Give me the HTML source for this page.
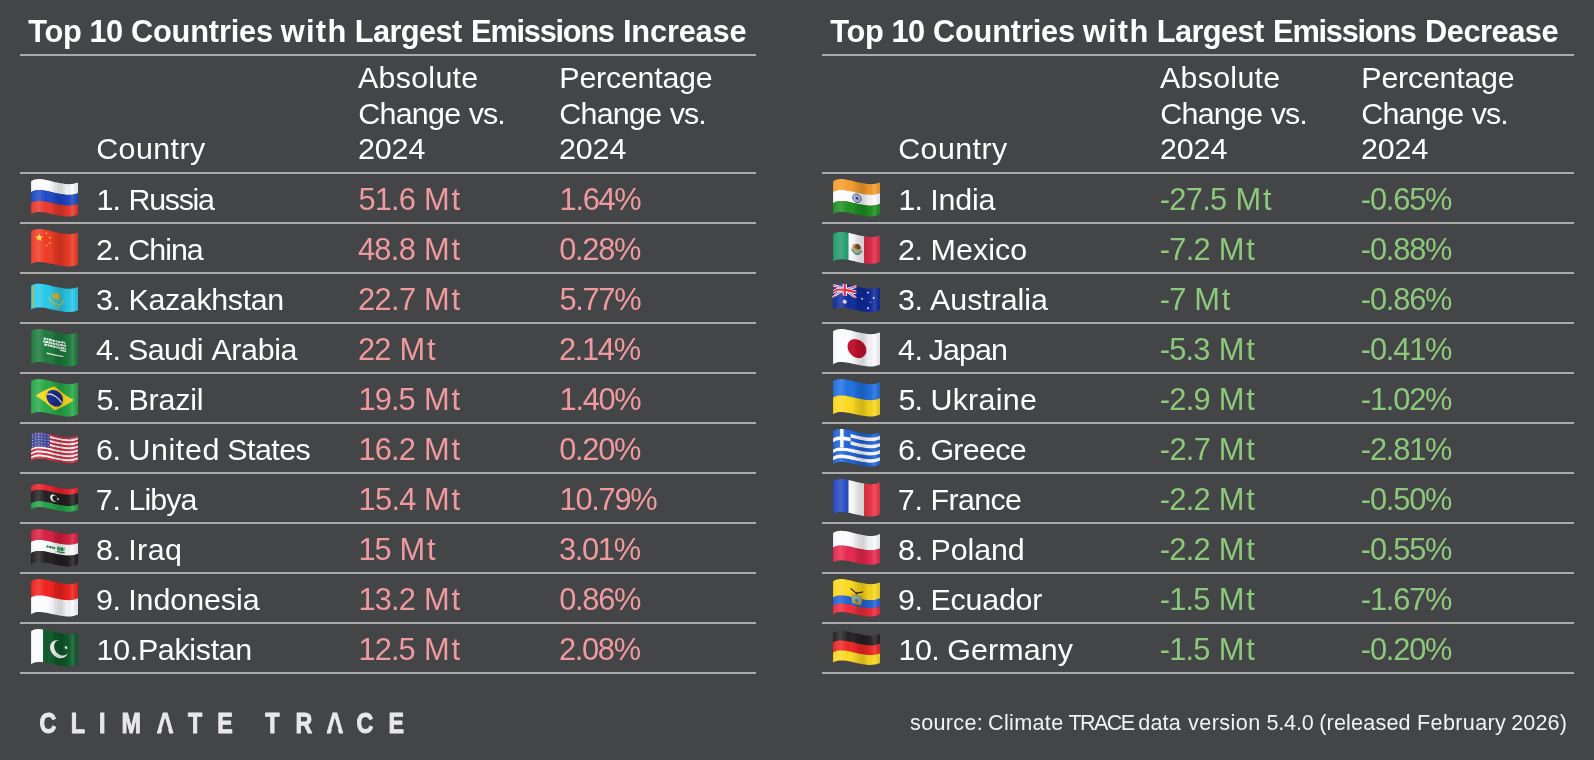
<!DOCTYPE html>
<html lang="en">
<head>
<meta charset="utf-8">
<title>Climate TRACE – Top 10 Countries Emissions Change</title>
<style>
html,body{margin:0;padding:0;background:#444547;}
body{width:1594px;height:760px;overflow:hidden;font-family:"Liberation Sans",sans-serif;color:#fff;}
.page{will-change:transform;position:relative;width:1594px;height:760px;overflow:hidden;background:#444547;}
.panel{position:absolute;top:0;}
.panel.inc{left:20px;width:736px;}
.panel.dec{left:822px;width:752px;}
h2{position:absolute;left:8px;top:14px;margin:0;font-size:30.8px;line-height:36px;font-weight:bold;white-space:nowrap;color:#fff;}
table{position:absolute;left:0;top:54px;width:100%;border-collapse:separate;border-spacing:0;table-layout:fixed;font-size:30.4px;}
th,td{padding:0;margin:0;border-top:2px solid #aaaaaa;text-align:left;font-weight:normal;white-space:nowrap;overflow:visible;}
th{height:111px;padding-bottom:5px;vertical-align:bottom;line-height:35.6px;}
td{height:48px;line-height:48px;vertical-align:top;}
tbody tr:last-child td{border-bottom:2px solid #aaaaaa;}
.c0{width:76px;}
.c1{width:262px;}
.c2{width:201px;}
.c3{width:auto;}
th span,td span,h2 span,.source span{position:relative;}
td span{top:1px;}
td.v{font-size:30.8px;}
td.v span{top:2px;}
.inc .v{color:#ef9a9e;}
.dec .v{color:#8dc97b;}
td.c0{position:relative;}
td.c0 svg{position:absolute;left:9px;top:0;display:block;overflow:visible;}
footer{position:absolute;left:0;top:690px;width:1594px;height:70px;}
.logo{position:absolute;left:30px;top:10px;display:block;overflow:visible;}
.source{position:absolute;right:27px;top:18px;margin:0;font-size:21.6px;line-height:30px;color:#f2f2f2;white-space:nowrap;}

</style>
</head>
<body>
<svg width="0" height="0" style="position:absolute" aria-hidden="true"><defs><linearGradient id="fsh" x1="0" y1="0" x2="1" y2="0"><stop offset="0" stop-color="#000" stop-opacity="0.12"/><stop offset="0.04" stop-color="#fff" stop-opacity="0.05"/><stop offset="0.16" stop-color="#fff" stop-opacity="0.16"/><stop offset="0.32" stop-color="#fff" stop-opacity="0"/><stop offset="0.52" stop-color="#000" stop-opacity="0.12"/><stop offset="0.64" stop-color="#000" stop-opacity="0.17"/><stop offset="0.76" stop-color="#000" stop-opacity="0.04"/><stop offset="0.88" stop-color="#fff" stop-opacity="0.14"/><stop offset="1" stop-color="#000" stop-opacity="0.10"/></linearGradient></defs></svg>
<main class="page">
<section class="panel inc">
<h2><span style="letter-spacing:-0.323px;margin-left:0.23px">Top</span> <span style="letter-spacing:-0.463px;margin-left:-0.6px">10</span> <span style="letter-spacing:-0.192px;margin-left:-0.39px">Countries</span> <span style="letter-spacing:1.283px;margin-left:-0.7px">with</span> <span style="letter-spacing:-0.606px;margin-left:-1.41px">Largest</span> <span style="letter-spacing:-1.27px;margin-left:0.86px">Emissions</span> <span style="letter-spacing:-0.212px;margin-left:0.73px">Increase</span></h2>
<table>
<thead><tr><th class="c0"></th><th class="c1"><span style="letter-spacing:0.424px;margin-left:0.22px">Country</span></th><th class="c2"><span style="letter-spacing:0.284px;margin-left:-0.07px">Absolute</span><br><span style="letter-spacing:-0.712px;margin-left:0.22px">Change</span> <span style="letter-spacing:-0.923px;margin-left:-0.19px">vs.</span><br><span style="letter-spacing:-0.061px;margin-left:-0.07px">2024</span></th><th class="c3"><span style="letter-spacing:-0.237px;margin-left:0.37px">Percentage</span><br><span style="letter-spacing:-0.712px;margin-left:0.22px">Change</span> <span style="letter-spacing:-0.923px;margin-left:-0.19px">vs.</span><br><span style="letter-spacing:-0.061px;margin-left:-0.07px">2024</span></th></tr></thead>
<tbody>
<tr><td class="c0"><svg width="50" height="48" viewBox="0 0 50 48" role="img" aria-label="Flag of Russia"><path d="M2.0,7.2 L3.9,6.2 L5.8,5.5 L7.6,5.2 L9.5,5.1 L11.4,5.1 L13.3,5.3 L15.2,5.6 L17.0,5.9 L18.9,6.3 L20.8,6.7 L22.7,7.2 L24.6,7.7 L26.4,8.2 L28.3,8.6 L30.2,9.0 L32.1,9.3 L34.0,9.6 L35.8,9.9 L37.7,10.1 L39.6,10.2 L41.5,10.1 L43.4,9.9 L45.2,9.6 L47.1,9.1 L49.0,8.4 L49.0,12.0 L49.0,15.6 L49.0,19.2 L47.1,19.9 L45.2,20.5 L43.4,20.8 L41.5,21.0 L39.6,21.1 L37.7,21.0 L35.8,20.8 L34.0,20.6 L32.1,20.3 L30.2,19.9 L28.3,19.6 L26.4,19.2 L24.6,18.7 L22.7,18.2 L20.8,17.8 L18.9,17.3 L17.0,17.0 L15.2,16.6 L13.3,16.4 L11.4,16.2 L9.5,16.2 L7.6,16.3 L5.8,16.6 L3.9,17.3 L2.0,18.4 L2.0,14.6 L2.0,10.9Z" fill="#fbfbfd"/><path d="M2.0,18.1 L3.9,17.0 L5.8,16.4 L7.6,16.0 L9.5,15.9 L11.4,16.0 L13.3,16.1 L15.2,16.4 L17.0,16.7 L18.9,17.1 L20.8,17.5 L22.7,18.0 L24.6,18.5 L26.4,18.9 L28.3,19.3 L30.2,19.7 L32.1,20.0 L34.0,20.3 L35.8,20.6 L37.7,20.8 L39.6,20.8 L41.5,20.8 L43.4,20.6 L45.2,20.2 L47.1,19.7 L49.0,19.0 L49.0,22.6 L49.0,26.3 L49.0,29.9 L47.1,30.6 L45.2,31.2 L43.4,31.6 L41.5,31.8 L39.6,31.9 L37.7,31.8 L35.8,31.6 L34.0,31.4 L32.1,31.1 L30.2,30.8 L28.3,30.4 L26.4,30.0 L24.6,29.6 L22.7,29.1 L20.8,28.7 L18.9,28.3 L17.0,27.9 L15.2,27.6 L13.3,27.3 L11.4,27.2 L9.5,27.1 L7.6,27.3 L5.8,27.6 L3.9,28.3 L2.0,29.4 L2.0,25.6 L2.0,21.9Z" fill="#1d48c8"/><path d="M2.0,29.1 L3.9,28.1 L5.8,27.4 L7.6,27.0 L9.5,26.9 L11.4,26.9 L13.3,27.1 L15.2,27.3 L17.0,27.6 L18.9,28.0 L20.8,28.4 L22.7,28.9 L24.6,29.3 L26.4,29.8 L28.3,30.2 L30.2,30.5 L32.1,30.8 L34.0,31.1 L35.8,31.4 L37.7,31.5 L39.6,31.6 L41.5,31.5 L43.4,31.3 L45.2,30.9 L47.1,30.4 L49.0,29.7 L49.0,33.3 L49.0,36.9 L49.0,40.5 L47.1,41.2 L45.2,41.8 L43.4,42.2 L41.5,42.4 L39.6,42.5 L37.7,42.4 L35.8,42.3 L34.0,42.1 L32.1,41.8 L30.2,41.5 L28.3,41.1 L26.4,40.8 L24.6,40.3 L22.7,39.9 L20.8,39.4 L18.9,39.0 L17.0,38.7 L15.2,38.4 L13.3,38.2 L11.4,38.0 L9.5,38.0 L7.6,38.1 L5.8,38.5 L3.9,39.2 L2.0,40.3 L2.0,36.6 L2.0,32.9Z" fill="#e8372b"/><path d="M2.0,7.2 L3.9,6.2 L5.8,5.5 L7.6,5.2 L9.5,5.1 L11.4,5.1 L13.3,5.3 L15.2,5.6 L17.0,5.9 L18.9,6.3 L20.8,6.7 L22.7,7.2 L24.6,7.7 L26.4,8.2 L28.3,8.6 L30.2,9.0 L32.1,9.3 L34.0,9.6 L35.8,9.9 L37.7,10.1 L39.6,10.2 L41.5,10.1 L43.4,9.9 L45.2,9.6 L47.1,9.1 L49.0,8.4 L49.0,12.4 L49.0,16.4 L49.0,20.4 L49.0,24.5 L49.0,28.5 L49.0,32.5 L49.0,36.5 L49.0,40.5 L47.1,41.2 L45.2,41.8 L43.4,42.2 L41.5,42.4 L39.6,42.5 L37.7,42.4 L35.8,42.3 L34.0,42.1 L32.1,41.8 L30.2,41.5 L28.3,41.1 L26.4,40.8 L24.6,40.3 L22.7,39.9 L20.8,39.4 L18.9,39.0 L17.0,38.7 L15.2,38.4 L13.3,38.2 L11.4,38.0 L9.5,38.0 L7.6,38.1 L5.8,38.5 L3.9,39.2 L2.0,40.3 L2.0,36.2 L2.0,32.0 L2.0,27.9 L2.0,23.8 L2.0,19.6 L2.0,15.5 L2.0,11.3Z" fill="url(#fsh)"/></svg></td><td class="c1"><span style="letter-spacing:-0.874px;margin-left:0.59px">1.</span> <span style="letter-spacing:-1.277px;margin-left:-0.17px">Russia</span></td><td class="c2 v"><span style="letter-spacing:-0.817px;margin-left:0.39px">51.6</span> <span style="letter-spacing:1.933px;margin-left:0.35px">Mt</span></td><td class="c3 v"><span style="letter-spacing:-1.294px;margin-left:0.56px">1.64%</span></td></tr>
<tr><td class="c0"><svg width="50" height="48" viewBox="0 0 50 48" role="img" aria-label="Flag of China"><path d="M2.0,7.2 L3.9,6.2 L5.8,5.5 L7.6,5.2 L9.5,5.1 L11.4,5.1 L13.3,5.3 L15.2,5.6 L17.0,5.9 L18.9,6.3 L20.8,6.7 L22.7,7.2 L24.6,7.7 L26.4,8.2 L28.3,8.6 L30.2,9.0 L32.1,9.3 L34.0,9.6 L35.8,9.9 L37.7,10.1 L39.6,10.2 L41.5,10.1 L43.4,9.9 L45.2,9.6 L47.1,9.1 L49.0,8.4 L49.0,12.4 L49.0,16.4 L49.0,20.4 L49.0,24.5 L49.0,28.5 L49.0,32.5 L49.0,36.5 L49.0,40.5 L47.1,41.2 L45.2,41.8 L43.4,42.2 L41.5,42.4 L39.6,42.5 L37.7,42.4 L35.8,42.3 L34.0,42.1 L32.1,41.8 L30.2,41.5 L28.3,41.1 L26.4,40.8 L24.6,40.3 L22.7,39.9 L20.8,39.4 L18.9,39.0 L17.0,38.7 L15.2,38.4 L13.3,38.2 L11.4,38.0 L9.5,38.0 L7.6,38.1 L5.8,38.5 L3.9,39.2 L2.0,40.3 L2.0,36.2 L2.0,32.0 L2.0,27.9 L2.0,23.8 L2.0,19.6 L2.0,15.5 L2.0,11.3Z" fill="#ee3a24"/><path d="M10.2,9.5 L11.2,12.3 L12.7,12.5 L14.2,12.7 L13.0,13.4 L11.8,14.2 L12.7,17.1 L11.4,16.2 L10.2,15.3 L9.0,16.1 L7.8,17.0 L8.7,14.2 L7.5,13.4 L6.3,12.7 L7.8,12.4 L9.3,12.3Z" fill="#ffe02e"/><path d="M17.5,8.0 L17.8,8.9 L18.8,9.1 L18.0,9.5 L18.3,10.5 L17.5,9.8 L16.7,10.2 L17.0,9.3 L16.3,8.6 L17.2,8.8Z" fill="#ffe02e"/><path d="M20.8,12.3 L21.1,13.3 L22.1,13.5 L21.3,13.9 L21.6,14.9 L20.8,14.1 L20.0,14.5 L20.3,13.7 L19.5,12.9 L20.5,13.1Z" fill="#ffe02e"/><path d="M20.8,17.5 L21.1,18.5 L22.1,18.8 L21.3,19.1 L21.6,20.1 L20.8,19.4 L20.0,19.7 L20.3,18.9 L19.5,18.1 L20.5,18.3Z" fill="#ffe02e"/><path d="M17.5,20.1 L17.8,21.0 L18.8,21.2 L18.0,21.7 L18.3,22.6 L17.5,21.9 L16.7,22.3 L17.0,21.5 L16.3,20.8 L17.2,20.9Z" fill="#ffe02e"/><path d="M2.0,7.2 L3.9,6.2 L5.8,5.5 L7.6,5.2 L9.5,5.1 L11.4,5.1 L13.3,5.3 L15.2,5.6 L17.0,5.9 L18.9,6.3 L20.8,6.7 L22.7,7.2 L24.6,7.7 L26.4,8.2 L28.3,8.6 L30.2,9.0 L32.1,9.3 L34.0,9.6 L35.8,9.9 L37.7,10.1 L39.6,10.2 L41.5,10.1 L43.4,9.9 L45.2,9.6 L47.1,9.1 L49.0,8.4 L49.0,12.4 L49.0,16.4 L49.0,20.4 L49.0,24.5 L49.0,28.5 L49.0,32.5 L49.0,36.5 L49.0,40.5 L47.1,41.2 L45.2,41.8 L43.4,42.2 L41.5,42.4 L39.6,42.5 L37.7,42.4 L35.8,42.3 L34.0,42.1 L32.1,41.8 L30.2,41.5 L28.3,41.1 L26.4,40.8 L24.6,40.3 L22.7,39.9 L20.8,39.4 L18.9,39.0 L17.0,38.7 L15.2,38.4 L13.3,38.2 L11.4,38.0 L9.5,38.0 L7.6,38.1 L5.8,38.5 L3.9,39.2 L2.0,40.3 L2.0,36.2 L2.0,32.0 L2.0,27.9 L2.0,23.8 L2.0,19.6 L2.0,15.5 L2.0,11.3Z" fill="url(#fsh)"/></svg></td><td class="c1"><span style="letter-spacing:-0.396px;margin-left:-0.07px">2.</span> <span style="letter-spacing:-0.994px;margin-left:-0.61px">China</span></td><td class="c2 v"><span style="letter-spacing:-0.692px;margin-left:-0.08px">48.8</span> <span style="letter-spacing:1.933px;margin-left:0.32px">Mt</span></td><td class="c3 v"><span style="letter-spacing:-1.294px;margin-left:0.21px">0.28%</span></td></tr>
<tr><td class="c0"><svg width="50" height="48" viewBox="0 0 50 48" role="img" aria-label="Flag of Kazakhstan"><path d="M2.0,11.8 L3.9,10.8 L5.8,10.1 L7.6,9.8 L9.5,9.7 L11.4,9.8 L13.3,10.0 L15.2,10.2 L17.0,10.5 L18.9,10.9 L20.8,11.4 L22.7,11.9 L24.6,12.4 L26.4,12.8 L28.3,13.2 L30.2,13.6 L32.1,14.0 L34.0,14.3 L35.8,14.6 L37.7,14.8 L39.6,14.8 L41.5,14.8 L43.4,14.6 L45.2,14.3 L47.1,13.7 L49.0,13.1 L49.0,15.9 L49.0,18.8 L49.0,21.7 L49.0,24.6 L49.0,27.5 L49.0,30.4 L49.0,33.3 L49.0,36.1 L47.1,36.9 L45.2,37.4 L43.4,37.8 L41.5,38.0 L39.6,38.1 L37.7,38.0 L35.8,37.8 L34.0,37.6 L32.1,37.3 L30.2,37.0 L28.3,36.6 L26.4,36.3 L24.6,35.8 L22.7,35.4 L20.8,34.9 L18.9,34.5 L17.0,34.1 L15.2,33.8 L13.3,33.6 L11.4,33.4 L9.5,33.4 L7.6,33.5 L5.8,33.9 L3.9,34.6 L2.0,35.6 L2.0,32.7 L2.0,29.7 L2.0,26.7 L2.0,23.8 L2.0,20.8 L2.0,17.8 L2.0,14.8Z" fill="#27c9ea"/><path d="M30.6,23.0 L30.5,23.7 L30.3,24.3 L29.9,24.9 L29.4,25.3 L28.8,25.5 L28.1,25.6 L27.4,25.6 L26.7,25.3 L26.0,24.9 L25.4,24.4 L24.9,23.8 L24.5,23.1 L24.2,22.4 L24.2,21.6 L24.2,21.0 L24.5,20.4 L24.9,19.8 L25.4,19.5 L26.0,19.2 L26.7,19.2 L27.4,19.2 L28.1,19.5 L28.8,19.8 L29.4,20.3 L29.9,20.9 L30.3,21.6 L30.5,22.3Z" fill="#f0b41c"/><path d="M31.2,23.1 L32.5,23.4" fill="none" stroke="#f0b41c" stroke-width="0.5"/><path d="M30.7,24.9 L31.8,25.8" fill="none" stroke="#f0b41c" stroke-width="0.5"/><path d="M29.3,26.0 L29.9,27.3" fill="none" stroke="#f0b41c" stroke-width="0.5"/><path d="M27.4,26.1 L27.4,27.4" fill="none" stroke="#f0b41c" stroke-width="0.5"/><path d="M25.5,25.2 L24.8,26.2" fill="none" stroke="#f0b41c" stroke-width="0.5"/><path d="M24.1,23.5 L22.9,23.9" fill="none" stroke="#f0b41c" stroke-width="0.5"/><path d="M23.6,21.5 L22.3,21.2" fill="none" stroke="#f0b41c" stroke-width="0.5"/><path d="M24.1,19.7 L22.9,18.8" fill="none" stroke="#f0b41c" stroke-width="0.5"/><path d="M25.5,18.7 L24.8,17.4" fill="none" stroke="#f0b41c" stroke-width="0.5"/><path d="M27.4,18.7 L27.4,17.4" fill="none" stroke="#f0b41c" stroke-width="0.5"/><path d="M29.3,19.5 L29.9,18.6" fill="none" stroke="#f0b41c" stroke-width="0.5"/><path d="M30.7,21.2 L31.8,20.7" fill="none" stroke="#f0b41c" stroke-width="0.5"/><path d="M20.1,23.0 L20.9,25.1 L21.7,27.1 L23.0,28.1 L24.2,29.0 L25.5,29.9 L26.4,29.7 L27.4,29.4 L28.8,30.2 L30.2,30.9 L31.6,30.2 L33.0,29.5 L34.0,27.8 L34.9,26.1" fill="none" stroke="#e6be32" stroke-width="1.1" stroke-linecap="round" stroke-linejoin="round"/><path d="M24.1,30.5 L25.7,32.3 L27.4,34.1 L29.0,33.1 L30.7,32.2" fill="none" stroke="#e6be32" stroke-width="0.9" stroke-linecap="round"/><path d="M4.1,12.1 L4.1,15.1 L4.1,18.1 L4.1,21.1 L4.1,24.1 L4.1,27.1 L4.1,30.1 L4.1,33.0" fill="none" stroke="#d9b52e" stroke-width="1.9" stroke-dasharray="1.3 0.6"/><path d="M2.0,11.8 L3.9,10.8 L5.8,10.1 L7.6,9.8 L9.5,9.7 L11.4,9.8 L13.3,10.0 L15.2,10.2 L17.0,10.5 L18.9,10.9 L20.8,11.4 L22.7,11.9 L24.6,12.4 L26.4,12.8 L28.3,13.2 L30.2,13.6 L32.1,14.0 L34.0,14.3 L35.8,14.6 L37.7,14.8 L39.6,14.8 L41.5,14.8 L43.4,14.6 L45.2,14.3 L47.1,13.7 L49.0,13.1 L49.0,15.9 L49.0,18.8 L49.0,21.7 L49.0,24.6 L49.0,27.5 L49.0,30.4 L49.0,33.3 L49.0,36.1 L47.1,36.9 L45.2,37.4 L43.4,37.8 L41.5,38.0 L39.6,38.1 L37.7,38.0 L35.8,37.8 L34.0,37.6 L32.1,37.3 L30.2,37.0 L28.3,36.6 L26.4,36.3 L24.6,35.8 L22.7,35.4 L20.8,34.9 L18.9,34.5 L17.0,34.1 L15.2,33.8 L13.3,33.6 L11.4,33.4 L9.5,33.4 L7.6,33.5 L5.8,33.9 L3.9,34.6 L2.0,35.6 L2.0,32.7 L2.0,29.7 L2.0,26.7 L2.0,23.8 L2.0,20.8 L2.0,17.8 L2.0,14.8Z" fill="url(#fsh)"/></svg></td><td class="c1"><span style="letter-spacing:-0.278px;margin-left:-0.11px">3.</span> <span style="letter-spacing:-0.34px;margin-left:-0.66px">Kazakhstan</span></td><td class="c2 v"><span style="letter-spacing:-0.599px;margin-left:-0.09px">22.7</span> <span style="letter-spacing:1.933px">Mt</span></td><td class="c3 v"><span style="letter-spacing:-1.294px;margin-left:0.39px">5.77%</span></td></tr>
<tr><td class="c0"><svg width="50" height="48" viewBox="0 0 50 48" role="img" aria-label="Flag of Saudi Arabia"><path d="M2.0,7.2 L3.9,6.2 L5.8,5.5 L7.6,5.2 L9.5,5.1 L11.4,5.1 L13.3,5.3 L15.2,5.6 L17.0,5.9 L18.9,6.3 L20.8,6.7 L22.7,7.2 L24.6,7.7 L26.4,8.2 L28.3,8.6 L30.2,9.0 L32.1,9.3 L34.0,9.6 L35.8,9.9 L37.7,10.1 L39.6,10.2 L41.5,10.1 L43.4,9.9 L45.2,9.6 L47.1,9.1 L49.0,8.4 L49.0,12.4 L49.0,16.4 L49.0,20.4 L49.0,24.5 L49.0,28.5 L49.0,32.5 L49.0,36.5 L49.0,40.5 L47.1,41.2 L45.2,41.8 L43.4,42.2 L41.5,42.4 L39.6,42.5 L37.7,42.4 L35.8,42.3 L34.0,42.1 L32.1,41.8 L30.2,41.5 L28.3,41.1 L26.4,40.8 L24.6,40.3 L22.7,39.9 L20.8,39.4 L18.9,39.0 L17.0,38.7 L15.2,38.4 L13.3,38.2 L11.4,38.0 L9.5,38.0 L7.6,38.1 L5.8,38.5 L3.9,39.2 L2.0,40.3 L2.0,36.2 L2.0,32.0 L2.0,27.9 L2.0,23.8 L2.0,19.6 L2.0,15.5 L2.0,11.3Z" fill="#1c7a3d"/><path d="M14.7,14.5 L16.5,14.8 L18.3,15.2 L20.1,15.6 L21.9,16.0 L23.7,16.5 L25.5,16.9 L27.3,17.3 L29.1,17.7 L30.9,18.0 L32.7,18.3 L34.5,18.6 L36.3,18.9" fill="none" stroke="#eef3ee" stroke-width="2.0" stroke-dasharray="2.6 0.6 1.4 0.5 3.2 0.6"/><path d="M14.2,17.4 L16.0,17.7 L17.8,18.0 L19.5,18.4 L21.3,18.8 L23.1,19.2 L24.8,19.7 L26.6,20.1 L28.4,20.5 L30.2,20.8 L31.9,21.1 L33.7,21.4 L35.5,21.7 L37.2,21.9" fill="none" stroke="#eef3ee" stroke-width="2.2" stroke-dasharray="1.4 0.5 3 0.5 1.8 0.4"/><path d="M15.2,20.5 L17.0,20.8 L18.8,21.2 L20.7,21.6 L22.5,22.0 L24.4,22.5 L26.2,22.9 L28.0,23.3 L29.9,23.7 L31.7,24.0 L33.6,24.3 L35.4,24.6 L37.2,24.8" fill="none" stroke="#eef3ee" stroke-width="2.0" stroke-dasharray="3.2 0.6 1.5 0.5 2.2 0.5"/><path d="M31.1,26.0 L32.7,26.4 L34.2,26.7 L35.7,27.0 L37.2,27.2" fill="none" stroke="#eef3ee" stroke-width="1.5"/><path d="M18.0,29.2 L19.8,29.6 L21.5,30.0 L23.3,30.4 L25.1,30.8 L26.9,31.2 L28.6,31.6 L30.4,31.9 L32.2,32.2 L34.0,32.5" fill="none" stroke="#eef3ee" stroke-width="1.2" stroke-linecap="round"/><path d="M2.0,7.2 L3.9,6.2 L5.8,5.5 L7.6,5.2 L9.5,5.1 L11.4,5.1 L13.3,5.3 L15.2,5.6 L17.0,5.9 L18.9,6.3 L20.8,6.7 L22.7,7.2 L24.6,7.7 L26.4,8.2 L28.3,8.6 L30.2,9.0 L32.1,9.3 L34.0,9.6 L35.8,9.9 L37.7,10.1 L39.6,10.2 L41.5,10.1 L43.4,9.9 L45.2,9.6 L47.1,9.1 L49.0,8.4 L49.0,12.4 L49.0,16.4 L49.0,20.4 L49.0,24.5 L49.0,28.5 L49.0,32.5 L49.0,36.5 L49.0,40.5 L47.1,41.2 L45.2,41.8 L43.4,42.2 L41.5,42.4 L39.6,42.5 L37.7,42.4 L35.8,42.3 L34.0,42.1 L32.1,41.8 L30.2,41.5 L28.3,41.1 L26.4,40.8 L24.6,40.3 L22.7,39.9 L20.8,39.4 L18.9,39.0 L17.0,38.7 L15.2,38.4 L13.3,38.2 L11.4,38.0 L9.5,38.0 L7.6,38.1 L5.8,38.5 L3.9,39.2 L2.0,40.3 L2.0,36.2 L2.0,32.0 L2.0,27.9 L2.0,23.8 L2.0,19.6 L2.0,15.5 L2.0,11.3Z" fill="url(#fsh)"/></svg></td><td class="c1"><span style="letter-spacing:-0.384px;margin-left:-0.08px">4.</span> <span style="letter-spacing:-0.549px;margin-left:-0.95px">Saudi</span> <span style="letter-spacing:-0.352px;margin-left:-0.06px">Arabia</span></td><td class="c2 v"><span style="letter-spacing:-0.744px;margin-left:-0.09px">22</span> <span style="letter-spacing:1.933px;margin-left:0.26px">Mt</span></td><td class="c3 v"><span style="letter-spacing:-1.294px;margin-left:-0.09px">2.14%</span></td></tr>
<tr><td class="c0"><svg width="50" height="48" viewBox="0 0 50 48" role="img" aria-label="Flag of Brazil"><path d="M2.0,7.2 L3.9,6.2 L5.8,5.5 L7.6,5.2 L9.5,5.1 L11.4,5.1 L13.3,5.3 L15.2,5.6 L17.0,5.9 L18.9,6.3 L20.8,6.7 L22.7,7.2 L24.6,7.7 L26.4,8.2 L28.3,8.6 L30.2,9.0 L32.1,9.3 L34.0,9.6 L35.8,9.9 L37.7,10.1 L39.6,10.2 L41.5,10.1 L43.4,9.9 L45.2,9.6 L47.1,9.1 L49.0,8.4 L49.0,12.4 L49.0,16.4 L49.0,20.4 L49.0,24.5 L49.0,28.5 L49.0,32.5 L49.0,36.5 L49.0,40.5 L47.1,41.2 L45.2,41.8 L43.4,42.2 L41.5,42.4 L39.6,42.5 L37.7,42.4 L35.8,42.3 L34.0,42.1 L32.1,41.8 L30.2,41.5 L28.3,41.1 L26.4,40.8 L24.6,40.3 L22.7,39.9 L20.8,39.4 L18.9,39.0 L17.0,38.7 L15.2,38.4 L13.3,38.2 L11.4,38.0 L9.5,38.0 L7.6,38.1 L5.8,38.5 L3.9,39.2 L2.0,40.3 L2.0,36.2 L2.0,32.0 L2.0,27.9 L2.0,23.8 L2.0,19.6 L2.0,15.5 L2.0,11.3Z" fill="#27a848"/><path d="M6.7,21.8 L8.4,20.5 L10.2,19.3 L11.9,18.3 L13.6,17.4 L15.4,16.5 L17.1,15.7 L18.8,14.9 L20.5,14.2 L22.3,13.6 L24.0,12.9 L25.7,12.2 L27.5,13.7 L29.2,15.2 L30.9,16.6 L32.7,18.0 L34.4,19.4 L36.1,20.7 L37.8,21.9 L39.6,23.1 L41.3,24.1 L43.0,25.0 L44.8,25.8 L43.0,27.2 L41.3,28.5 L39.6,29.6 L37.8,30.6 L36.1,31.6 L34.4,32.4 L32.7,33.3 L30.9,34.1 L29.2,34.9 L27.5,35.6 L25.7,36.4 L24.0,34.9 L22.3,33.3 L20.5,31.8 L18.8,30.4 L17.1,28.9 L15.4,27.5 L13.6,26.2 L11.9,24.9 L10.2,23.7 L8.4,22.7Z" fill="#f9d71c"/><path d="M34.0,25.8 L33.8,27.6 L33.2,29.2 L32.2,30.6 L30.9,31.7 L29.3,32.4 L27.6,32.6 L25.7,32.5 L23.9,31.8 L22.1,30.8 L20.6,29.4 L19.3,27.8 L18.3,26.1 L17.7,24.2 L17.5,22.4 L17.7,20.6 L18.3,19.0 L19.3,17.6 L20.6,16.7 L22.1,16.1 L23.9,15.9 L25.7,16.2 L27.6,16.8 L29.3,17.7 L30.9,19.0 L32.2,20.5 L33.2,22.2 L33.8,24.0Z" fill="#1b2c8c"/><path d="M18.0,20.2 L19.9,20.1 L21.7,20.1 L23.2,20.7 L24.6,21.4 L26.0,22.1 L27.9,23.6 L29.7,25.1 L31.3,27.0 L32.8,28.9" fill="none" stroke="#e9eef2" stroke-width="1.3"/><path d="M2.0,7.2 L3.9,6.2 L5.8,5.5 L7.6,5.2 L9.5,5.1 L11.4,5.1 L13.3,5.3 L15.2,5.6 L17.0,5.9 L18.9,6.3 L20.8,6.7 L22.7,7.2 L24.6,7.7 L26.4,8.2 L28.3,8.6 L30.2,9.0 L32.1,9.3 L34.0,9.6 L35.8,9.9 L37.7,10.1 L39.6,10.2 L41.5,10.1 L43.4,9.9 L45.2,9.6 L47.1,9.1 L49.0,8.4 L49.0,12.4 L49.0,16.4 L49.0,20.4 L49.0,24.5 L49.0,28.5 L49.0,32.5 L49.0,36.5 L49.0,40.5 L47.1,41.2 L45.2,41.8 L43.4,42.2 L41.5,42.4 L39.6,42.5 L37.7,42.4 L35.8,42.3 L34.0,42.1 L32.1,41.8 L30.2,41.5 L28.3,41.1 L26.4,40.8 L24.6,40.3 L22.7,39.9 L20.8,39.4 L18.9,39.0 L17.0,38.7 L15.2,38.4 L13.3,38.2 L11.4,38.0 L9.5,38.0 L7.6,38.1 L5.8,38.5 L3.9,39.2 L2.0,40.3 L2.0,36.2 L2.0,32.0 L2.0,27.9 L2.0,23.8 L2.0,19.6 L2.0,15.5 L2.0,11.3Z" fill="url(#fsh)"/></svg></td><td class="c1"><span style="letter-spacing:-0.737px;margin-left:0.39px">5.</span> <span style="letter-spacing:-0.194px;margin-left:-0.24px">Brazil</span></td><td class="c2 v"><span style="letter-spacing:-0.963px;margin-left:0.56px">19.5</span> <span style="letter-spacing:1.933px;margin-left:0.76px">Mt</span></td><td class="c3 v"><span style="letter-spacing:-1.294px;margin-left:0.56px">1.40%</span></td></tr>
<tr><td class="c0"><svg width="50" height="48" viewBox="0 0 50 48" role="img" aria-label="Flag of United States"><path d="M2.0,10.6 L3.9,9.5 L5.8,8.8 L7.6,8.5 L9.5,8.4 L11.4,8.5 L13.3,8.7 L15.2,8.9 L17.0,9.2 L18.9,9.6 L20.8,10.1 L22.7,10.6 L24.6,11.1 L26.4,11.5 L28.3,11.9 L30.2,12.3 L32.1,12.7 L34.0,13.0 L35.8,13.3 L37.7,13.5 L39.6,13.5 L41.5,13.5 L43.4,13.3 L45.2,13.0 L47.1,12.4 L49.0,11.8 L49.0,13.8 L47.1,14.5 L45.2,15.0 L43.4,15.4 L41.5,15.6 L39.6,15.6 L37.7,15.5 L35.8,15.3 L34.0,15.1 L32.1,14.8 L30.2,14.4 L28.3,14.0 L26.4,13.6 L24.6,13.2 L22.7,12.7 L20.8,12.2 L18.9,11.8 L17.0,11.4 L15.2,11.0 L13.3,10.8 L11.4,10.6 L9.5,10.5 L7.6,10.6 L5.8,11.0 L3.9,11.6 L2.0,12.7Z" fill="#d42b3f"/><path d="M2.0,12.5 L3.9,11.4 L5.8,10.8 L7.6,10.4 L9.5,10.3 L11.4,10.4 L13.3,10.6 L15.2,10.8 L17.0,11.2 L18.9,11.6 L20.8,12.0 L22.7,12.5 L24.6,13.0 L26.4,13.4 L28.3,13.8 L30.2,14.2 L32.1,14.5 L34.0,14.9 L35.8,15.1 L37.7,15.3 L39.6,15.4 L41.5,15.4 L43.4,15.2 L45.2,14.8 L47.1,14.3 L49.0,13.6 L49.0,15.8 L47.1,16.5 L45.2,17.0 L43.4,17.4 L41.5,17.6 L39.6,17.6 L37.7,17.5 L35.8,17.3 L34.0,17.1 L32.1,16.7 L30.2,16.4 L28.3,16.0 L26.4,15.6 L24.6,15.2 L22.7,14.7 L20.8,14.2 L18.9,13.8 L17.0,13.4 L15.2,13.0 L13.3,12.8 L11.4,12.6 L9.5,12.6 L7.6,12.7 L5.8,13.0 L3.9,13.7 L2.0,14.7Z" fill="#f7f7f9"/><path d="M2.0,14.5 L3.9,13.5 L5.8,12.8 L7.6,12.4 L9.5,12.3 L11.4,12.4 L13.3,12.6 L15.2,12.8 L17.0,13.2 L18.9,13.6 L20.8,14.0 L22.7,14.5 L24.6,15.0 L26.4,15.4 L28.3,15.8 L30.2,16.2 L32.1,16.5 L34.0,16.9 L35.8,17.1 L37.7,17.3 L39.6,17.4 L41.5,17.3 L43.4,17.1 L45.2,16.8 L47.1,16.3 L49.0,15.6 L49.0,17.8 L47.1,18.5 L45.2,19.0 L43.4,19.3 L41.5,19.5 L39.6,19.6 L37.7,19.5 L35.8,19.3 L34.0,19.0 L32.1,18.7 L30.2,18.4 L28.3,18.0 L26.4,17.6 L24.6,17.2 L22.7,16.7 L20.8,16.2 L18.9,15.8 L17.0,15.4 L15.2,15.1 L13.3,14.8 L11.4,14.6 L9.5,14.6 L7.6,14.7 L5.8,15.0 L3.9,15.7 L2.0,16.7Z" fill="#d42b3f"/><path d="M2.0,16.5 L3.9,15.5 L5.8,14.8 L7.6,14.5 L9.5,14.4 L11.4,14.4 L13.3,14.6 L15.2,14.9 L17.0,15.2 L18.9,15.6 L20.8,16.0 L22.7,16.5 L24.6,17.0 L26.4,17.4 L28.3,17.8 L30.2,18.2 L32.1,18.5 L34.0,18.8 L35.8,19.1 L37.7,19.3 L39.6,19.4 L41.5,19.3 L43.4,19.1 L45.2,18.8 L47.1,18.3 L49.0,17.6 L49.0,19.7 L47.1,20.4 L45.2,21.0 L43.4,21.3 L41.5,21.5 L39.6,21.6 L37.7,21.5 L35.8,21.3 L34.0,21.0 L32.1,20.7 L30.2,20.4 L28.3,20.0 L26.4,19.6 L24.6,19.2 L22.7,18.7 L20.8,18.2 L18.9,17.8 L17.0,17.4 L15.2,17.1 L13.3,16.8 L11.4,16.7 L9.5,16.6 L7.6,16.7 L5.8,17.1 L3.9,17.7 L2.0,18.8Z" fill="#f7f7f9"/><path d="M2.0,18.6 L3.9,17.5 L5.8,16.8 L7.6,16.5 L9.5,16.4 L11.4,16.4 L13.3,16.6 L15.2,16.9 L17.0,17.2 L18.9,17.6 L20.8,18.0 L22.7,18.5 L24.6,19.0 L26.4,19.4 L28.3,19.8 L30.2,20.2 L32.1,20.5 L34.0,20.8 L35.8,21.1 L37.7,21.3 L39.6,21.4 L41.5,21.3 L43.4,21.1 L45.2,20.7 L47.1,20.2 L49.0,19.5 L49.0,21.7 L47.1,22.4 L45.2,22.9 L43.4,23.3 L41.5,23.5 L39.6,23.6 L37.7,23.5 L35.8,23.3 L34.0,23.0 L32.1,22.7 L30.2,22.4 L28.3,22.0 L26.4,21.6 L24.6,21.2 L22.7,20.7 L20.8,20.2 L18.9,19.8 L17.0,19.4 L15.2,19.1 L13.3,18.8 L11.4,18.7 L9.5,18.6 L7.6,18.7 L5.8,19.1 L3.9,19.7 L2.0,20.8Z" fill="#d42b3f"/><path d="M2.0,20.6 L3.9,19.5 L5.8,18.9 L7.6,18.5 L9.5,18.4 L11.4,18.5 L13.3,18.6 L15.2,18.9 L17.0,19.2 L18.9,19.6 L20.8,20.0 L22.7,20.5 L24.6,21.0 L26.4,21.4 L28.3,21.8 L30.2,22.2 L32.1,22.5 L34.0,22.8 L35.8,23.1 L37.7,23.3 L39.6,23.3 L41.5,23.3 L43.4,23.1 L45.2,22.7 L47.1,22.2 L49.0,21.5 L49.0,23.7 L47.1,24.4 L45.2,24.9 L43.4,25.3 L41.5,25.5 L39.6,25.5 L37.7,25.5 L35.8,25.3 L34.0,25.0 L32.1,24.7 L30.2,24.4 L28.3,24.0 L26.4,23.6 L24.6,23.2 L22.7,22.7 L20.8,22.2 L18.9,21.8 L17.0,21.4 L15.2,21.1 L13.3,20.9 L11.4,20.7 L9.5,20.6 L7.6,20.8 L5.8,21.1 L3.9,21.8 L2.0,22.8Z" fill="#f7f7f9"/><path d="M2.0,22.6 L3.9,21.6 L5.8,20.9 L7.6,20.5 L9.5,20.4 L11.4,20.5 L13.3,20.6 L15.2,20.9 L17.0,21.2 L18.9,21.6 L20.8,22.0 L22.7,22.5 L24.6,23.0 L26.4,23.4 L28.3,23.8 L30.2,24.2 L32.1,24.5 L34.0,24.8 L35.8,25.1 L37.7,25.3 L39.6,25.3 L41.5,25.3 L43.4,25.1 L45.2,24.7 L47.1,24.2 L49.0,23.5 L49.0,25.6 L47.1,26.3 L45.2,26.9 L43.4,27.2 L41.5,27.5 L39.6,27.5 L37.7,27.4 L35.8,27.3 L34.0,27.0 L32.1,26.7 L30.2,26.4 L28.3,26.0 L26.4,25.6 L24.6,25.2 L22.7,24.7 L20.8,24.2 L18.9,23.8 L17.0,23.4 L15.2,23.1 L13.3,22.9 L11.4,22.7 L9.5,22.7 L7.6,22.8 L5.8,23.1 L3.9,23.8 L2.0,24.9Z" fill="#d42b3f"/><path d="M2.0,24.7 L3.9,23.6 L5.8,22.9 L7.6,22.6 L9.5,22.4 L11.4,22.5 L13.3,22.7 L15.2,22.9 L17.0,23.2 L18.9,23.6 L20.8,24.0 L22.7,24.5 L24.6,25.0 L26.4,25.4 L28.3,25.8 L30.2,26.2 L32.1,26.5 L34.0,26.8 L35.8,27.1 L37.7,27.2 L39.6,27.3 L41.5,27.2 L43.4,27.0 L45.2,26.7 L47.1,26.1 L49.0,25.4 L49.0,27.6 L47.1,28.3 L45.2,28.9 L43.4,29.2 L41.5,29.4 L39.6,29.5 L37.7,29.4 L35.8,29.3 L34.0,29.0 L32.1,28.7 L30.2,28.4 L28.3,28.0 L26.4,27.6 L24.6,27.2 L22.7,26.7 L20.8,26.3 L18.9,25.8 L17.0,25.4 L15.2,25.1 L13.3,24.9 L11.4,24.7 L9.5,24.7 L7.6,24.8 L5.8,25.2 L3.9,25.8 L2.0,26.9Z" fill="#f7f7f9"/><path d="M2.0,26.7 L3.9,25.6 L5.8,24.9 L7.6,24.6 L9.5,24.5 L11.4,24.5 L13.3,24.7 L15.2,24.9 L17.0,25.2 L18.9,25.6 L20.8,26.0 L22.7,26.5 L24.6,27.0 L26.4,27.4 L28.3,27.8 L30.2,28.2 L32.1,28.5 L34.0,28.8 L35.8,29.0 L37.7,29.2 L39.6,29.3 L41.5,29.2 L43.4,29.0 L45.2,28.6 L47.1,28.1 L49.0,27.4 L49.0,29.6 L47.1,30.3 L45.2,30.8 L43.4,31.2 L41.5,31.4 L39.6,31.5 L37.7,31.4 L35.8,31.2 L34.0,31.0 L32.1,30.7 L30.2,30.4 L28.3,30.0 L26.4,29.6 L24.6,29.2 L22.7,28.7 L20.8,28.3 L18.9,27.8 L17.0,27.5 L15.2,27.1 L13.3,26.9 L11.4,26.7 L9.5,26.7 L7.6,26.8 L5.8,27.2 L3.9,27.9 L2.0,28.9Z" fill="#d42b3f"/><path d="M2.0,28.7 L3.9,27.7 L5.8,27.0 L7.6,26.6 L9.5,26.5 L11.4,26.5 L13.3,26.7 L15.2,26.9 L17.0,27.2 L18.9,27.6 L20.8,28.0 L22.7,28.5 L24.6,29.0 L26.4,29.4 L28.3,29.8 L30.2,30.2 L32.1,30.5 L34.0,30.8 L35.8,31.0 L37.7,31.2 L39.6,31.3 L41.5,31.2 L43.4,31.0 L45.2,30.6 L47.1,30.1 L49.0,29.4 L49.0,31.6 L47.1,32.3 L45.2,32.8 L43.4,33.2 L41.5,33.4 L39.6,33.5 L37.7,33.4 L35.8,33.2 L34.0,33.0 L32.1,32.7 L30.2,32.4 L28.3,32.0 L26.4,31.6 L24.6,31.2 L22.7,30.7 L20.8,30.3 L18.9,29.8 L17.0,29.5 L15.2,29.2 L13.3,28.9 L11.4,28.8 L9.5,28.7 L7.6,28.8 L5.8,29.2 L3.9,29.9 L2.0,31.0Z" fill="#f7f7f9"/><path d="M2.0,30.8 L3.9,29.7 L5.8,29.0 L7.6,28.6 L9.5,28.5 L11.4,28.6 L13.3,28.7 L15.2,28.9 L17.0,29.3 L18.9,29.6 L20.8,30.1 L22.7,30.5 L24.6,31.0 L26.4,31.4 L28.3,31.8 L30.2,32.2 L32.1,32.5 L34.0,32.8 L35.8,33.0 L37.7,33.2 L39.6,33.3 L41.5,33.2 L43.4,33.0 L45.2,32.6 L47.1,32.1 L49.0,31.3 L49.0,33.5 L47.1,34.2 L45.2,34.8 L43.4,35.1 L41.5,35.4 L39.6,35.4 L37.7,35.4 L35.8,35.2 L34.0,35.0 L32.1,34.7 L30.2,34.4 L28.3,34.0 L26.4,33.6 L24.6,33.2 L22.7,32.7 L20.8,32.3 L18.9,31.8 L17.0,31.5 L15.2,31.2 L13.3,30.9 L11.4,30.8 L9.5,30.7 L7.6,30.9 L5.8,31.2 L3.9,31.9 L2.0,33.0Z" fill="#d42b3f"/><path d="M2.0,32.8 L3.9,31.7 L5.8,31.0 L7.6,30.7 L9.5,30.5 L11.4,30.6 L13.3,30.7 L15.2,31.0 L17.0,31.3 L18.9,31.6 L20.8,32.1 L22.7,32.5 L24.6,33.0 L26.4,33.4 L28.3,33.8 L30.2,34.1 L32.1,34.5 L34.0,34.8 L35.8,35.0 L37.7,35.2 L39.6,35.2 L41.5,35.2 L43.4,34.9 L45.2,34.6 L47.1,34.0 L49.0,33.3 L49.0,35.5 L47.1,36.2 L45.2,36.7 L43.4,37.1 L41.5,37.3 L39.6,37.4 L37.7,37.4 L35.8,37.2 L34.0,37.0 L32.1,36.7 L30.2,36.3 L28.3,36.0 L26.4,35.6 L24.6,35.2 L22.7,34.7 L20.8,34.3 L18.9,33.9 L17.0,33.5 L15.2,33.2 L13.3,33.0 L11.4,32.8 L9.5,32.8 L7.6,32.9 L5.8,33.3 L3.9,33.9 L2.0,35.0Z" fill="#f7f7f9"/><path d="M2.0,34.8 L3.9,33.7 L5.8,33.1 L7.6,32.7 L9.5,32.6 L11.4,32.6 L13.3,32.7 L15.2,33.0 L17.0,33.3 L18.9,33.6 L20.8,34.1 L22.7,34.5 L24.6,35.0 L26.4,35.4 L28.3,35.8 L30.2,36.1 L32.1,36.5 L34.0,36.7 L35.8,37.0 L37.7,37.2 L39.6,37.2 L41.5,37.1 L43.4,36.9 L45.2,36.5 L47.1,36.0 L49.0,35.3 L49.0,37.4 L47.1,38.1 L45.2,38.6 L43.4,39.0 L41.5,39.2 L39.6,39.3 L37.7,39.2 L35.8,39.1 L34.0,38.8 L32.1,38.6 L30.2,38.2 L28.3,37.9 L26.4,37.5 L24.6,37.1 L22.7,36.6 L20.8,36.2 L18.9,35.8 L17.0,35.4 L15.2,35.1 L13.3,34.9 L11.4,34.7 L9.5,34.7 L7.6,34.8 L5.8,35.2 L3.9,35.9 L2.0,37.0Z" fill="#d42b3f"/><path d="M2.0,10.6 L3.9,9.5 L5.8,8.8 L7.6,8.5 L9.5,8.4 L11.4,8.5 L13.3,8.7 L15.2,8.9 L17.0,9.2 L18.9,9.6 L20.8,10.1 L20.8,12.9 L20.8,15.7 L20.8,18.5 L20.8,21.3 L20.8,24.1 L18.9,23.7 L17.0,23.3 L15.2,23.0 L13.3,22.8 L11.4,22.6 L9.5,22.6 L7.6,22.7 L5.8,23.0 L3.9,23.7 L2.0,24.8 L2.0,21.9 L2.0,19.1 L2.0,16.2 L2.0,13.4Z" fill="#3c4293"/><path d="M4.2,10.8 L3.9,11.4 L3.4,11.7 L3.1,11.4 L3.4,10.7 L3.9,10.4Z" fill="#dfe3f3"/><path d="M7.3,10.0 L7.0,10.5 L6.5,10.6 L6.2,10.2 L6.5,9.6 L7.0,9.5Z" fill="#dfe3f3"/><path d="M10.4,9.9 L10.1,10.4 L9.6,10.4 L9.3,9.9 L9.6,9.4 L10.1,9.4Z" fill="#dfe3f3"/><path d="M13.5,10.1 L13.2,10.6 L12.7,10.5 L12.4,10.0 L12.7,9.5 L13.2,9.6Z" fill="#dfe3f3"/><path d="M16.6,10.6 L16.3,11.1 L15.8,11.0 L15.5,10.4 L15.8,10.0 L16.3,10.1Z" fill="#dfe3f3"/><path d="M19.7,11.3 L19.4,11.7 L18.9,11.6 L18.6,11.0 L18.9,10.6 L19.4,10.7Z" fill="#dfe3f3"/><path d="M4.2,13.6 L3.9,14.3 L3.4,14.5 L3.1,14.2 L3.4,13.5 L3.9,13.2Z" fill="#dfe3f3"/><path d="M7.3,12.8 L7.0,13.3 L6.5,13.5 L6.2,13.0 L6.5,12.4 L7.0,12.3Z" fill="#dfe3f3"/><path d="M10.4,12.7 L10.1,13.2 L9.6,13.2 L9.3,12.7 L9.6,12.2 L10.1,12.2Z" fill="#dfe3f3"/><path d="M13.5,12.9 L13.2,13.4 L12.7,13.3 L12.4,12.8 L12.7,12.3 L13.2,12.4Z" fill="#dfe3f3"/><path d="M16.6,13.4 L16.3,13.9 L15.8,13.8 L15.5,13.2 L15.8,12.8 L16.3,12.9Z" fill="#dfe3f3"/><path d="M19.7,14.1 L19.4,14.5 L18.9,14.4 L18.6,13.8 L18.9,13.4 L19.4,13.5Z" fill="#dfe3f3"/><path d="M4.2,16.4 L3.9,17.1 L3.4,17.4 L3.1,17.0 L3.4,16.3 L3.9,16.1Z" fill="#dfe3f3"/><path d="M7.3,15.6 L7.0,16.2 L6.5,16.3 L6.2,15.8 L6.5,15.3 L7.0,15.2Z" fill="#dfe3f3"/><path d="M10.4,15.5 L10.1,16.0 L9.6,16.0 L9.3,15.5 L9.6,15.0 L10.1,15.0Z" fill="#dfe3f3"/><path d="M13.5,15.7 L13.2,16.2 L12.7,16.1 L12.4,15.6 L12.7,15.1 L13.2,15.2Z" fill="#dfe3f3"/><path d="M16.6,16.2 L16.3,16.7 L15.8,16.6 L15.5,16.0 L15.8,15.6 L16.3,15.7Z" fill="#dfe3f3"/><path d="M19.7,16.9 L19.4,17.3 L18.9,17.2 L18.6,16.6 L18.9,16.2 L19.4,16.3Z" fill="#dfe3f3"/><path d="M4.2,19.3 L3.9,19.9 L3.4,20.2 L3.1,19.8 L3.4,19.2 L3.9,18.9Z" fill="#dfe3f3"/><path d="M7.3,18.4 L7.0,19.0 L6.5,19.1 L6.2,18.6 L6.5,18.1 L7.0,18.0Z" fill="#dfe3f3"/><path d="M10.4,18.3 L10.1,18.8 L9.6,18.8 L9.3,18.3 L9.6,17.8 L10.1,17.8Z" fill="#dfe3f3"/><path d="M13.5,18.5 L13.2,19.0 L12.7,18.9 L12.4,18.4 L12.7,17.9 L13.2,18.0Z" fill="#dfe3f3"/><path d="M16.6,19.0 L16.3,19.5 L15.8,19.4 L15.5,18.8 L15.8,18.4 L16.3,18.5Z" fill="#dfe3f3"/><path d="M19.7,19.7 L19.4,20.1 L18.9,20.0 L18.6,19.4 L18.9,19.0 L19.4,19.1Z" fill="#dfe3f3"/><path d="M4.2,22.1 L3.9,22.7 L3.4,23.0 L3.1,22.6 L3.4,22.0 L3.9,21.7Z" fill="#dfe3f3"/><path d="M7.3,21.3 L7.0,21.8 L6.5,21.9 L6.2,21.5 L6.5,20.9 L7.0,20.8Z" fill="#dfe3f3"/><path d="M10.4,21.1 L10.1,21.6 L9.6,21.6 L9.3,21.1 L9.6,20.6 L10.1,20.6Z" fill="#dfe3f3"/><path d="M13.5,21.3 L13.2,21.8 L12.7,21.7 L12.4,21.2 L12.7,20.8 L13.2,20.8Z" fill="#dfe3f3"/><path d="M16.6,21.8 L16.3,22.3 L15.8,22.2 L15.5,21.6 L15.8,21.2 L16.3,21.3Z" fill="#dfe3f3"/><path d="M19.7,22.4 L19.4,22.9 L18.9,22.7 L18.6,22.2 L18.9,21.8 L19.4,21.9Z" fill="#dfe3f3"/><path d="M2.0,10.6 L3.9,9.5 L5.8,8.8 L7.6,8.5 L9.5,8.4 L11.4,8.5 L13.3,8.7 L15.2,8.9 L17.0,9.2 L18.9,9.6 L20.8,10.1 L22.7,10.6 L24.6,11.1 L26.4,11.5 L28.3,11.9 L30.2,12.3 L32.1,12.7 L34.0,13.0 L35.8,13.3 L37.7,13.5 L39.6,13.5 L41.5,13.5 L43.4,13.3 L45.2,13.0 L47.1,12.4 L49.0,11.8 L49.0,15.0 L49.0,18.2 L49.0,21.4 L49.0,24.6 L49.0,27.8 L49.0,31.0 L49.0,34.2 L49.0,37.4 L47.1,38.1 L45.2,38.6 L43.4,39.0 L41.5,39.2 L39.6,39.3 L37.7,39.2 L35.8,39.1 L34.0,38.8 L32.1,38.6 L30.2,38.2 L28.3,37.9 L26.4,37.5 L24.6,37.1 L22.7,36.6 L20.8,36.2 L18.9,35.8 L17.0,35.4 L15.2,35.1 L13.3,34.9 L11.4,34.7 L9.5,34.7 L7.6,34.8 L5.8,35.2 L3.9,35.9 L2.0,37.0 L2.0,33.6 L2.0,30.3 L2.0,27.1 L2.0,23.8 L2.0,20.4 L2.0,17.1 L2.0,13.9Z" fill="url(#fsh)"/></svg></td><td class="c1"><span style="letter-spacing:-0.377px;margin-left:0.1px">6.</span> <span style="letter-spacing:0.615px;margin-left:-0.75px">United</span> <span style="letter-spacing:-0.526px;margin-left:-1.13px">States</span></td><td class="c2 v"><span style="letter-spacing:-0.859px;margin-left:0.56px">16.2</span> <span style="letter-spacing:1.933px;margin-left:0.34px">Mt</span></td><td class="c3 v"><span style="letter-spacing:-1.294px;margin-left:0.21px">0.20%</span></td></tr>
<tr><td class="c0"><svg width="50" height="48" viewBox="0 0 50 48" role="img" aria-label="Flag of Libya"><path d="M2.0,12.2 L3.9,11.1 L5.8,10.4 L7.6,10.1 L9.5,10.0 L11.4,10.1 L13.3,10.3 L15.2,10.5 L17.0,10.8 L18.9,11.2 L20.8,11.7 L22.7,12.2 L24.6,12.7 L26.4,13.1 L28.3,13.5 L30.2,13.9 L32.1,14.3 L34.0,14.6 L35.8,14.9 L37.7,15.1 L39.6,15.1 L41.5,15.1 L43.4,14.9 L45.2,14.6 L47.1,14.0 L49.0,13.4 L49.0,16.2 L49.0,19.1 L47.1,19.8 L45.2,20.3 L43.4,20.6 L41.5,20.8 L39.6,20.9 L37.7,20.8 L35.8,20.6 L34.0,20.4 L32.1,20.0 L30.2,19.7 L28.3,19.3 L26.4,18.9 L24.6,18.5 L22.7,18.0 L20.8,17.5 L18.9,17.1 L17.0,16.7 L15.2,16.4 L13.3,16.1 L11.4,15.9 L9.5,15.9 L7.6,16.0 L5.8,16.3 L3.9,17.0 L2.0,18.0 L2.0,15.1Z" fill="#e8212b"/><path d="M2.0,17.9 L3.9,16.8 L5.8,16.1 L7.6,15.8 L9.5,15.7 L11.4,15.8 L13.3,15.9 L15.2,16.2 L17.0,16.5 L18.9,16.9 L20.8,17.3 L22.7,17.8 L24.6,18.3 L26.4,18.7 L28.3,19.2 L30.2,19.5 L32.1,19.9 L34.0,20.2 L35.8,20.4 L37.7,20.6 L39.6,20.7 L41.5,20.7 L43.4,20.5 L45.2,20.1 L47.1,19.6 L49.0,18.9 L49.0,21.7 L49.0,24.6 L49.0,27.5 L49.0,30.3 L47.1,31.0 L45.2,31.6 L43.4,31.9 L41.5,32.1 L39.6,32.2 L37.7,32.1 L35.8,32.0 L34.0,31.7 L32.1,31.4 L30.2,31.1 L28.3,30.7 L26.4,30.3 L24.6,29.9 L22.7,29.4 L20.8,29.0 L18.9,28.6 L17.0,28.2 L15.2,27.9 L13.3,27.6 L11.4,27.5 L9.5,27.4 L7.6,27.5 L5.8,27.9 L3.9,28.6 L2.0,29.6 L2.0,26.7 L2.0,23.8 L2.0,20.8Z" fill="#231f20"/><path d="M2.0,29.5 L3.9,28.4 L5.8,27.7 L7.6,27.3 L9.5,27.2 L11.4,27.3 L13.3,27.4 L15.2,27.7 L17.0,28.0 L18.9,28.4 L20.8,28.8 L22.7,29.3 L24.6,29.7 L26.4,30.2 L28.3,30.6 L30.2,30.9 L32.1,31.2 L34.0,31.5 L35.8,31.8 L37.7,32.0 L39.6,32.0 L41.5,32.0 L43.4,31.7 L45.2,31.4 L47.1,30.8 L49.0,30.1 L49.0,33.0 L49.0,35.9 L47.1,36.6 L45.2,37.1 L43.4,37.5 L41.5,37.7 L39.6,37.8 L37.7,37.7 L35.8,37.6 L34.0,37.3 L32.1,37.0 L30.2,36.7 L28.3,36.3 L26.4,36.0 L24.6,35.5 L22.7,35.1 L20.8,34.6 L18.9,34.2 L17.0,33.8 L15.2,33.5 L13.3,33.3 L11.4,33.1 L9.5,33.1 L7.6,33.2 L5.8,33.6 L3.9,34.3 L2.0,35.4 L2.0,32.4Z" fill="#22a446"/><path d="M28.4,25.0 L28.3,25.7 L28.0,26.4 L27.6,27.0 L27.0,27.4 L26.4,27.7 L25.6,27.8 L24.8,27.7 L24.0,27.4 L23.2,27.0 L22.6,26.4 L22.0,25.7 L21.6,24.9 L21.3,24.1 L21.2,23.3 L21.3,22.5 L21.6,21.8 L22.0,21.2 L22.6,20.8 L23.2,20.6 L24.0,20.5 L24.8,20.6 L25.6,20.9 L26.4,21.3 L27.0,21.9 L27.6,22.6 L28.0,23.4 L28.3,24.2Z" fill="#ffffff"/><path d="M29.0,25.1 L29.0,25.7 L28.8,26.3 L28.4,26.7 L28.0,27.1 L27.4,27.3 L26.8,27.4 L26.2,27.3 L25.5,27.1 L24.9,26.7 L24.4,26.3 L23.9,25.7 L23.6,25.1 L23.4,24.4 L23.3,23.8 L23.4,23.2 L23.6,22.6 L23.9,22.2 L24.4,21.8 L24.9,21.6 L25.5,21.6 L26.2,21.6 L26.8,21.9 L27.4,22.2 L28.0,22.7 L28.4,23.2 L28.8,23.8 L29.0,24.4Z" fill="#231f20"/><path d="M30.6,24.9 L29.6,25.4 L30.0,26.6 L29.0,25.7 L28.1,26.2 L28.4,25.2 L27.5,24.3 L28.6,24.5 L29.0,23.5 L29.4,24.6Z" fill="#ffffff"/><path d="M2.0,12.2 L3.9,11.1 L5.8,10.4 L7.6,10.1 L9.5,10.0 L11.4,10.1 L13.3,10.3 L15.2,10.5 L17.0,10.8 L18.9,11.2 L20.8,11.7 L22.7,12.2 L24.6,12.7 L26.4,13.1 L28.3,13.5 L30.2,13.9 L32.1,14.3 L34.0,14.6 L35.8,14.9 L37.7,15.1 L39.6,15.1 L41.5,15.1 L43.4,14.9 L45.2,14.6 L47.1,14.0 L49.0,13.4 L49.0,16.2 L49.0,19.0 L49.0,21.8 L49.0,24.6 L49.0,27.4 L49.0,30.2 L49.0,33.0 L49.0,35.9 L47.1,36.6 L45.2,37.1 L43.4,37.5 L41.5,37.7 L39.6,37.8 L37.7,37.7 L35.8,37.6 L34.0,37.3 L32.1,37.0 L30.2,36.7 L28.3,36.3 L26.4,36.0 L24.6,35.5 L22.7,35.1 L20.8,34.6 L18.9,34.2 L17.0,33.8 L15.2,33.5 L13.3,33.3 L11.4,33.1 L9.5,33.1 L7.6,33.2 L5.8,33.6 L3.9,34.3 L2.0,35.4 L2.0,32.5 L2.0,29.5 L2.0,26.6 L2.0,23.8 L2.0,20.9 L2.0,17.9 L2.0,15.1Z" fill="url(#fsh)"/></svg></td><td class="c1"><span style="letter-spacing:-0.231px;margin-left:-0.22px">7.</span> <span style="letter-spacing:-0.95px;margin-left:-0.65px">Libya</span></td><td class="c2 v"><span style="letter-spacing:-0.687px;margin-left:0.56px">15.4</span> <span style="letter-spacing:1.933px;margin-left:-0.34px">Mt</span></td><td class="c3 v"><span style="letter-spacing:-1.256px;margin-left:0.56px">10.79%</span></td></tr>
<tr><td class="c0"><svg width="50" height="48" viewBox="0 0 50 48" role="img" aria-label="Flag of Iraq"><path d="M2.0,7.2 L3.9,6.2 L5.8,5.5 L7.6,5.2 L9.5,5.1 L11.4,5.1 L13.3,5.3 L15.2,5.6 L17.0,5.9 L18.9,6.3 L20.8,6.7 L22.7,7.2 L24.6,7.7 L26.4,8.2 L28.3,8.6 L30.2,9.0 L32.1,9.3 L34.0,9.6 L35.8,9.9 L37.7,10.1 L39.6,10.2 L41.5,10.1 L43.4,9.9 L45.2,9.6 L47.1,9.1 L49.0,8.4 L49.0,12.0 L49.0,15.6 L49.0,19.2 L47.1,19.9 L45.2,20.5 L43.4,20.8 L41.5,21.0 L39.6,21.1 L37.7,21.0 L35.8,20.8 L34.0,20.6 L32.1,20.3 L30.2,19.9 L28.3,19.6 L26.4,19.2 L24.6,18.7 L22.7,18.2 L20.8,17.8 L18.9,17.3 L17.0,17.0 L15.2,16.6 L13.3,16.4 L11.4,16.2 L9.5,16.2 L7.6,16.3 L5.8,16.6 L3.9,17.3 L2.0,18.4 L2.0,14.6 L2.0,10.9Z" fill="#d61f3f"/><path d="M2.0,18.1 L3.9,17.0 L5.8,16.4 L7.6,16.0 L9.5,15.9 L11.4,16.0 L13.3,16.1 L15.2,16.4 L17.0,16.7 L18.9,17.1 L20.8,17.5 L22.7,18.0 L24.6,18.5 L26.4,18.9 L28.3,19.3 L30.2,19.7 L32.1,20.0 L34.0,20.3 L35.8,20.6 L37.7,20.8 L39.6,20.8 L41.5,20.8 L43.4,20.6 L45.2,20.2 L47.1,19.7 L49.0,19.0 L49.0,22.6 L49.0,26.3 L49.0,29.9 L47.1,30.6 L45.2,31.2 L43.4,31.6 L41.5,31.8 L39.6,31.9 L37.7,31.8 L35.8,31.6 L34.0,31.4 L32.1,31.1 L30.2,30.8 L28.3,30.4 L26.4,30.0 L24.6,29.6 L22.7,29.1 L20.8,28.7 L18.9,28.3 L17.0,27.9 L15.2,27.6 L13.3,27.3 L11.4,27.2 L9.5,27.1 L7.6,27.3 L5.8,27.6 L3.9,28.3 L2.0,29.4 L2.0,25.6 L2.0,21.9Z" fill="#fbfbfd"/><path d="M2.0,29.1 L3.9,28.1 L5.8,27.4 L7.6,27.0 L9.5,26.9 L11.4,26.9 L13.3,27.1 L15.2,27.3 L17.0,27.6 L18.9,28.0 L20.8,28.4 L22.7,28.9 L24.6,29.3 L26.4,29.8 L28.3,30.2 L30.2,30.5 L32.1,30.8 L34.0,31.1 L35.8,31.4 L37.7,31.5 L39.6,31.6 L41.5,31.5 L43.4,31.3 L45.2,30.9 L47.1,30.4 L49.0,29.7 L49.0,33.3 L49.0,36.9 L49.0,40.5 L47.1,41.2 L45.2,41.8 L43.4,42.2 L41.5,42.4 L39.6,42.5 L37.7,42.4 L35.8,42.3 L34.0,42.1 L32.1,41.8 L30.2,41.5 L28.3,41.1 L26.4,40.8 L24.6,40.3 L22.7,39.9 L20.8,39.4 L18.9,39.0 L17.0,38.7 L15.2,38.4 L13.3,38.2 L11.4,38.0 L9.5,38.0 L7.6,38.1 L5.8,38.5 L3.9,39.2 L2.0,40.3 L2.0,36.6 L2.0,32.9Z" fill="#231f20"/><path d="M17.5,22.2 L19.2,22.6 L20.9,23.0 L22.6,23.4 L24.3,23.8 L26.0,24.2" fill="none" stroke="#15863f" stroke-width="2.2" stroke-dasharray="1.8 0.5 2.6 0.5 1.2 0.4"/><path d="M28.3,24.4 L30.1,24.7 L31.8,25.0 L33.6,25.3 L35.4,25.6" fill="none" stroke="#15863f" stroke-width="3.6" stroke-dasharray="1.5 0.5 1.3 0.5 2.2 0.5"/><path d="M27.9,27.5 L29.4,27.8 L31.0,28.1 L32.6,28.4 L34.2,28.6 L35.8,28.8" fill="none" stroke="#15863f" stroke-width="1.1"/><path d="M2.0,7.2 L3.9,6.2 L5.8,5.5 L7.6,5.2 L9.5,5.1 L11.4,5.1 L13.3,5.3 L15.2,5.6 L17.0,5.9 L18.9,6.3 L20.8,6.7 L22.7,7.2 L24.6,7.7 L26.4,8.2 L28.3,8.6 L30.2,9.0 L32.1,9.3 L34.0,9.6 L35.8,9.9 L37.7,10.1 L39.6,10.2 L41.5,10.1 L43.4,9.9 L45.2,9.6 L47.1,9.1 L49.0,8.4 L49.0,12.4 L49.0,16.4 L49.0,20.4 L49.0,24.5 L49.0,28.5 L49.0,32.5 L49.0,36.5 L49.0,40.5 L47.1,41.2 L45.2,41.8 L43.4,42.2 L41.5,42.4 L39.6,42.5 L37.7,42.4 L35.8,42.3 L34.0,42.1 L32.1,41.8 L30.2,41.5 L28.3,41.1 L26.4,40.8 L24.6,40.3 L22.7,39.9 L20.8,39.4 L18.9,39.0 L17.0,38.7 L15.2,38.4 L13.3,38.2 L11.4,38.0 L9.5,38.0 L7.6,38.1 L5.8,38.5 L3.9,39.2 L2.0,40.3 L2.0,36.2 L2.0,32.0 L2.0,27.9 L2.0,23.8 L2.0,19.6 L2.0,15.5 L2.0,11.3Z" fill="url(#fsh)"/></svg></td><td class="c1"><span style="letter-spacing:-0.317px;margin-left:0.08px">8.</span> <span style="letter-spacing:0.475px;margin-left:-1.07px">Iraq</span></td><td class="c2 v"><span style="letter-spacing:-1.294px;margin-left:0.56px">15</span> <span style="letter-spacing:1.933px;margin-left:0.72px">Mt</span></td><td class="c3 v"><span style="letter-spacing:-1.294px;margin-left:-0.13px">3.01%</span></td></tr>
<tr><td class="c0"><svg width="50" height="48" viewBox="0 0 50 48" role="img" aria-label="Flag of Indonesia"><path d="M2.0,7.2 L3.9,6.2 L5.8,5.5 L7.6,5.2 L9.5,5.1 L11.4,5.1 L13.3,5.3 L15.2,5.6 L17.0,5.9 L18.9,6.3 L20.8,6.7 L22.7,7.2 L24.6,7.7 L26.4,8.2 L28.3,8.6 L30.2,9.0 L32.1,9.3 L34.0,9.6 L35.8,9.9 L37.7,10.1 L39.6,10.2 L41.5,10.1 L43.4,9.9 L45.2,9.6 L47.1,9.1 L49.0,8.4 L49.0,12.4 L49.0,16.5 L49.0,20.5 L49.0,24.6 L47.1,25.3 L45.2,25.8 L43.4,26.2 L41.5,26.4 L39.6,26.5 L37.7,26.4 L35.8,26.2 L34.0,26.0 L32.1,25.7 L30.2,25.3 L28.3,25.0 L26.4,24.6 L24.6,24.2 L22.7,23.7 L20.8,23.2 L18.9,22.8 L17.0,22.4 L15.2,22.1 L13.3,21.9 L11.4,21.7 L9.5,21.7 L7.6,21.8 L5.8,22.1 L3.9,22.8 L2.0,23.9 L2.0,19.7 L2.0,15.5 L2.0,11.4Z" fill="#f1211d"/><path d="M2.0,23.6 L3.9,22.5 L5.8,21.9 L7.6,21.5 L9.5,21.4 L11.4,21.4 L13.3,21.6 L15.2,21.8 L17.0,22.2 L18.9,22.5 L20.8,23.0 L22.7,23.4 L24.6,23.9 L26.4,24.3 L28.3,24.7 L30.2,25.1 L32.1,25.4 L34.0,25.7 L35.8,26.0 L37.7,26.1 L39.6,26.2 L41.5,26.1 L43.4,25.9 L45.2,25.6 L47.1,25.0 L49.0,24.3 L49.0,28.4 L49.0,32.4 L49.0,36.5 L49.0,40.5 L47.1,41.2 L45.2,41.8 L43.4,42.2 L41.5,42.4 L39.6,42.5 L37.7,42.4 L35.8,42.3 L34.0,42.1 L32.1,41.8 L30.2,41.5 L28.3,41.1 L26.4,40.8 L24.6,40.3 L22.7,39.9 L20.8,39.4 L18.9,39.0 L17.0,38.7 L15.2,38.4 L13.3,38.2 L11.4,38.0 L9.5,38.0 L7.6,38.1 L5.8,38.5 L3.9,39.2 L2.0,40.3 L2.0,36.1 L2.0,32.0 L2.0,27.8Z" fill="#fbfbfd"/><path d="M2.0,7.2 L3.9,6.2 L5.8,5.5 L7.6,5.2 L9.5,5.1 L11.4,5.1 L13.3,5.3 L15.2,5.6 L17.0,5.9 L18.9,6.3 L20.8,6.7 L22.7,7.2 L24.6,7.7 L26.4,8.2 L28.3,8.6 L30.2,9.0 L32.1,9.3 L34.0,9.6 L35.8,9.9 L37.7,10.1 L39.6,10.2 L41.5,10.1 L43.4,9.9 L45.2,9.6 L47.1,9.1 L49.0,8.4 L49.0,12.4 L49.0,16.4 L49.0,20.4 L49.0,24.5 L49.0,28.5 L49.0,32.5 L49.0,36.5 L49.0,40.5 L47.1,41.2 L45.2,41.8 L43.4,42.2 L41.5,42.4 L39.6,42.5 L37.7,42.4 L35.8,42.3 L34.0,42.1 L32.1,41.8 L30.2,41.5 L28.3,41.1 L26.4,40.8 L24.6,40.3 L22.7,39.9 L20.8,39.4 L18.9,39.0 L17.0,38.7 L15.2,38.4 L13.3,38.2 L11.4,38.0 L9.5,38.0 L7.6,38.1 L5.8,38.5 L3.9,39.2 L2.0,40.3 L2.0,36.2 L2.0,32.0 L2.0,27.9 L2.0,23.8 L2.0,19.6 L2.0,15.5 L2.0,11.3Z" fill="url(#fsh)"/></svg></td><td class="c1"><span style="letter-spacing:-0.502px;margin-left:0.05px">9.</span> <span style="letter-spacing:-0.05px;margin-left:-0.66px">Indonesia</span></td><td class="c2 v"><span style="letter-spacing:-0.859px;margin-left:0.56px">13.2</span> <span style="letter-spacing:1.933px;margin-left:0.34px">Mt</span></td><td class="c3 v"><span style="letter-spacing:-1.294px;margin-left:0.21px">0.86%</span></td></tr>
<tr><td class="c0"><svg width="50" height="48" viewBox="0 0 50 48" role="img" aria-label="Flag of Pakistan"><path d="M2.0,7.2 L3.9,6.2 L5.8,5.5 L7.6,5.2 L9.5,5.1 L11.4,5.1 L13.3,5.3 L15.2,5.6 L17.0,5.9 L18.9,6.3 L20.8,6.7 L22.7,7.2 L24.6,7.7 L26.4,8.2 L28.3,8.6 L30.2,9.0 L32.1,9.3 L34.0,9.6 L35.8,9.9 L37.7,10.1 L39.6,10.2 L41.5,10.1 L43.4,9.9 L45.2,9.6 L47.1,9.1 L49.0,8.4 L49.0,12.4 L49.0,16.4 L49.0,20.4 L49.0,24.5 L49.0,28.5 L49.0,32.5 L49.0,36.5 L49.0,40.5 L47.1,41.2 L45.2,41.8 L43.4,42.2 L41.5,42.4 L39.6,42.5 L37.7,42.4 L35.8,42.3 L34.0,42.1 L32.1,41.8 L30.2,41.5 L28.3,41.1 L26.4,40.8 L24.6,40.3 L22.7,39.9 L20.8,39.4 L18.9,39.0 L17.0,38.7 L15.2,38.4 L13.3,38.2 L11.4,38.0 L9.5,38.0 L7.6,38.1 L5.8,38.5 L3.9,39.2 L2.0,40.3 L2.0,36.2 L2.0,32.0 L2.0,27.9 L2.0,23.8 L2.0,19.6 L2.0,15.5 L2.0,11.3Z" fill="#0d5a2b"/><path d="M2.0,7.2 L3.7,6.2 L5.4,5.6 L7.1,5.2 L8.8,5.1 L10.6,5.1 L12.3,5.2 L14.0,5.4 L14.0,9.5 L14.0,13.6 L14.0,17.7 L14.0,21.8 L14.0,25.9 L14.0,30.0 L14.0,34.1 L14.0,38.2 L12.3,38.1 L10.6,38.0 L8.8,38.0 L7.1,38.2 L5.4,38.6 L3.7,39.3 L2.0,40.3 L2.0,36.2 L2.0,32.0 L2.0,27.9 L2.0,23.8 L2.0,19.6 L2.0,15.5 L2.0,11.3Z" fill="#fbfbfd"/><path d="M39.3,26.3 L39.1,28.3 L38.4,30.2 L37.3,31.8 L35.9,33.1 L34.1,33.9 L33.2,34.1 L32.2,34.3 L31.2,34.2 L30.2,34.2 L29.2,33.9 L28.2,33.6 L27.2,33.0 L26.3,32.5 L24.5,31.0 L23.1,29.3 L22.0,27.3 L21.3,25.2 L21.1,23.2 L21.3,21.2 L22.0,19.5 L23.1,18.1 L24.5,17.0 L26.3,16.3 L27.2,16.2 L28.2,16.1 L29.2,16.2 L30.2,16.3 L31.2,16.6 L32.2,16.9 L33.2,17.4 L34.1,17.8 L35.9,19.1 L37.3,20.7 L38.4,22.5 L39.1,24.4Z" fill="#f4f6f4"/><path d="M40.8,24.4 L40.6,26.1 L40.0,27.7 L39.1,29.1 L37.8,30.3 L36.3,31.1 L34.7,31.5 L32.9,31.4 L31.2,30.9 L29.5,30.1 L28.0,28.9 L26.8,27.4 L25.9,25.7 L25.3,23.9 L25.1,22.2 L25.3,20.5 L25.9,19.0 L26.8,17.8 L28.0,16.8 L29.5,16.2 L31.2,15.9 L32.9,16.0 L34.7,16.5 L36.3,17.3 L37.8,18.3 L39.1,19.6 L40.0,21.1 L40.6,22.7Z" fill="#0d5a2b"/><path d="M38.5,22.0 L37.9,23.5 L39.2,24.6 L37.5,24.4 L36.9,25.9 L36.4,24.3 L34.8,23.9 L36.2,23.2 L35.8,21.6 L37.1,22.7Z" fill="#f4f6f4"/><path d="M2.0,7.2 L3.9,6.2 L5.8,5.5 L7.6,5.2 L9.5,5.1 L11.4,5.1 L13.3,5.3 L15.2,5.6 L17.0,5.9 L18.9,6.3 L20.8,6.7 L22.7,7.2 L24.6,7.7 L26.4,8.2 L28.3,8.6 L30.2,9.0 L32.1,9.3 L34.0,9.6 L35.8,9.9 L37.7,10.1 L39.6,10.2 L41.5,10.1 L43.4,9.9 L45.2,9.6 L47.1,9.1 L49.0,8.4 L49.0,12.4 L49.0,16.4 L49.0,20.4 L49.0,24.5 L49.0,28.5 L49.0,32.5 L49.0,36.5 L49.0,40.5 L47.1,41.2 L45.2,41.8 L43.4,42.2 L41.5,42.4 L39.6,42.5 L37.7,42.4 L35.8,42.3 L34.0,42.1 L32.1,41.8 L30.2,41.5 L28.3,41.1 L26.4,40.8 L24.6,40.3 L22.7,39.9 L20.8,39.4 L18.9,39.0 L17.0,38.7 L15.2,38.4 L13.3,38.2 L11.4,38.0 L9.5,38.0 L7.6,38.1 L5.8,38.5 L3.9,39.2 L2.0,40.3 L2.0,36.2 L2.0,32.0 L2.0,27.9 L2.0,23.8 L2.0,19.6 L2.0,15.5 L2.0,11.3Z" fill="url(#fsh)"/></svg></td><td class="c1"><span style="letter-spacing:-0.314px;margin-left:0.59px">10.Pakistan</span></td><td class="c2 v"><span style="letter-spacing:-0.963px;margin-left:0.56px">12.5</span> <span style="letter-spacing:1.933px;margin-left:0.76px">Mt</span></td><td class="c3 v"><span style="letter-spacing:-1.294px;margin-left:-0.09px">2.08%</span></td></tr>
</tbody></table></section>
<section class="panel dec">
<h2><span style="letter-spacing:-0.323px;margin-left:0.23px">Top</span> <span style="letter-spacing:-0.463px;margin-left:-0.6px">10</span> <span style="letter-spacing:-0.192px;margin-left:-0.39px">Countries</span> <span style="letter-spacing:1.283px;margin-left:-0.7px">with</span> <span style="letter-spacing:-0.606px;margin-left:-1.41px">Largest</span> <span style="letter-spacing:-1.27px;margin-left:0.86px">Emissions</span> <span style="letter-spacing:-0.497px;margin-left:0.73px">Decrease</span></h2>
<table>
<thead><tr><th class="c0"></th><th class="c1"><span style="letter-spacing:0.424px;margin-left:0.22px">Country</span></th><th class="c2"><span style="letter-spacing:0.284px;margin-left:-0.07px">Absolute</span><br><span style="letter-spacing:-0.712px;margin-left:0.22px">Change</span> <span style="letter-spacing:-0.923px;margin-left:-0.19px">vs.</span><br><span style="letter-spacing:-0.061px;margin-left:-0.07px">2024</span></th><th class="c3"><span style="letter-spacing:-0.237px;margin-left:0.37px">Percentage</span><br><span style="letter-spacing:-0.712px;margin-left:0.22px">Change</span> <span style="letter-spacing:-0.923px;margin-left:-0.19px">vs.</span><br><span style="letter-spacing:-0.061px;margin-left:-0.07px">2024</span></th></tr></thead>
<tbody>
<tr><td class="c0"><svg width="50" height="48" viewBox="0 0 50 48" role="img" aria-label="Flag of India"><path d="M2.0,7.2 L3.9,6.2 L5.8,5.5 L7.6,5.2 L9.5,5.1 L11.4,5.1 L13.3,5.3 L15.2,5.6 L17.0,5.9 L18.9,6.3 L20.8,6.7 L22.7,7.2 L24.6,7.7 L26.4,8.2 L28.3,8.6 L30.2,9.0 L32.1,9.3 L34.0,9.6 L35.8,9.9 L37.7,10.1 L39.6,10.2 L41.5,10.1 L43.4,9.9 L45.2,9.6 L47.1,9.1 L49.0,8.4 L49.0,12.0 L49.0,15.6 L49.0,19.2 L47.1,19.9 L45.2,20.5 L43.4,20.8 L41.5,21.0 L39.6,21.1 L37.7,21.0 L35.8,20.8 L34.0,20.6 L32.1,20.3 L30.2,19.9 L28.3,19.6 L26.4,19.2 L24.6,18.7 L22.7,18.2 L20.8,17.8 L18.9,17.3 L17.0,17.0 L15.2,16.6 L13.3,16.4 L11.4,16.2 L9.5,16.2 L7.6,16.3 L5.8,16.6 L3.9,17.3 L2.0,18.4 L2.0,14.6 L2.0,10.9Z" fill="#f59d2d"/><path d="M2.0,18.1 L3.9,17.0 L5.8,16.4 L7.6,16.0 L9.5,15.9 L11.4,16.0 L13.3,16.1 L15.2,16.4 L17.0,16.7 L18.9,17.1 L20.8,17.5 L22.7,18.0 L24.6,18.5 L26.4,18.9 L28.3,19.3 L30.2,19.7 L32.1,20.0 L34.0,20.3 L35.8,20.6 L37.7,20.8 L39.6,20.8 L41.5,20.8 L43.4,20.6 L45.2,20.2 L47.1,19.7 L49.0,19.0 L49.0,22.6 L49.0,26.3 L49.0,29.9 L47.1,30.6 L45.2,31.2 L43.4,31.6 L41.5,31.8 L39.6,31.9 L37.7,31.8 L35.8,31.6 L34.0,31.4 L32.1,31.1 L30.2,30.8 L28.3,30.4 L26.4,30.0 L24.6,29.6 L22.7,29.1 L20.8,28.7 L18.9,28.3 L17.0,27.9 L15.2,27.6 L13.3,27.3 L11.4,27.2 L9.5,27.1 L7.6,27.3 L5.8,27.6 L3.9,28.3 L2.0,29.4 L2.0,25.6 L2.0,21.9Z" fill="#fbfbfd"/><path d="M2.0,29.1 L3.9,28.1 L5.8,27.4 L7.6,27.0 L9.5,26.9 L11.4,26.9 L13.3,27.1 L15.2,27.3 L17.0,27.6 L18.9,28.0 L20.8,28.4 L22.7,28.9 L24.6,29.3 L26.4,29.8 L28.3,30.2 L30.2,30.5 L32.1,30.8 L34.0,31.1 L35.8,31.4 L37.7,31.5 L39.6,31.6 L41.5,31.5 L43.4,31.3 L45.2,30.9 L47.1,30.4 L49.0,29.7 L49.0,33.3 L49.0,36.9 L49.0,40.5 L47.1,41.2 L45.2,41.8 L43.4,42.2 L41.5,42.4 L39.6,42.5 L37.7,42.4 L35.8,42.3 L34.0,42.1 L32.1,41.8 L30.2,41.5 L28.3,41.1 L26.4,40.8 L24.6,40.3 L22.7,39.9 L20.8,39.4 L18.9,39.0 L17.0,38.7 L15.2,38.4 L13.3,38.2 L11.4,38.0 L9.5,38.0 L7.6,38.1 L5.8,38.5 L3.9,39.2 L2.0,40.3 L2.0,36.6 L2.0,32.9Z" fill="#1f8f22"/><path d="M30.1,25.2 L30.0,26.1 L29.7,26.9 L29.2,27.6 L28.5,28.1 L27.8,28.4 L26.9,28.5 L26.0,28.4 L25.0,28.1 L24.2,27.6 L23.4,26.9 L22.7,26.1 L22.2,25.2 L21.9,24.3 L21.8,23.3 L21.9,22.5 L22.2,21.7 L22.7,21.0 L23.4,20.5 L24.2,20.3 L25.0,20.2 L26.0,20.3 L26.9,20.6 L27.8,21.1 L28.5,21.7 L29.2,22.5 L29.7,23.4 L30.0,24.3 L30.1,25.2" fill="none" stroke="#2a3192" stroke-width="0.85"/><path d="M27.0,24.6 L26.7,25.2 L26.0,25.3 L25.3,24.9 L25.0,24.1 L25.3,23.5 L26.0,23.4 L26.7,23.8Z" fill="#2a3192"/><path d="M22.0,23.4 L23.6,23.8 L25.2,24.2 L26.8,24.5 L28.4,24.9 L29.9,25.2" fill="none" stroke="#2a3192" stroke-width="0.35"/><path d="M22.3,22.0 L24.1,23.2 L26.0,24.4 L27.8,25.5 L29.6,26.6" fill="none" stroke="#2a3192" stroke-width="0.35"/><path d="M23.2,20.9 L25.0,23.2 L26.9,25.5 L28.8,27.7" fill="none" stroke="#2a3192" stroke-width="0.35"/><path d="M24.4,20.4 L26.0,24.4 L27.5,28.3" fill="none" stroke="#2a3192" stroke-width="0.35"/><path d="M26.0,20.4 L26.0,24.4 L26.0,28.3" fill="none" stroke="#2a3192" stroke-width="0.35"/><path d="M27.5,21.1 L26.0,24.4 L24.4,27.6" fill="none" stroke="#2a3192" stroke-width="0.35"/><path d="M28.8,22.2 L26.9,23.6 L25.0,25.1 L23.2,26.4" fill="none" stroke="#2a3192" stroke-width="0.35"/><path d="M29.6,23.6 L27.8,24.0 L26.0,24.4 L24.1,24.7 L22.3,25.0" fill="none" stroke="#2a3192" stroke-width="0.35"/><path d="M2.0,7.2 L3.9,6.2 L5.8,5.5 L7.6,5.2 L9.5,5.1 L11.4,5.1 L13.3,5.3 L15.2,5.6 L17.0,5.9 L18.9,6.3 L20.8,6.7 L22.7,7.2 L24.6,7.7 L26.4,8.2 L28.3,8.6 L30.2,9.0 L32.1,9.3 L34.0,9.6 L35.8,9.9 L37.7,10.1 L39.6,10.2 L41.5,10.1 L43.4,9.9 L45.2,9.6 L47.1,9.1 L49.0,8.4 L49.0,12.4 L49.0,16.4 L49.0,20.4 L49.0,24.5 L49.0,28.5 L49.0,32.5 L49.0,36.5 L49.0,40.5 L47.1,41.2 L45.2,41.8 L43.4,42.2 L41.5,42.4 L39.6,42.5 L37.7,42.4 L35.8,42.3 L34.0,42.1 L32.1,41.8 L30.2,41.5 L28.3,41.1 L26.4,40.8 L24.6,40.3 L22.7,39.9 L20.8,39.4 L18.9,39.0 L17.0,38.7 L15.2,38.4 L13.3,38.2 L11.4,38.0 L9.5,38.0 L7.6,38.1 L5.8,38.5 L3.9,39.2 L2.0,40.3 L2.0,36.2 L2.0,32.0 L2.0,27.9 L2.0,23.8 L2.0,19.6 L2.0,15.5 L2.0,11.3Z" fill="url(#fsh)"/></svg></td><td class="c1"><span style="letter-spacing:-0.874px;margin-left:0.59px">1.</span> <span style="letter-spacing:-0.166px;margin-left:-0.47px">India</span></td><td class="c2 v"><span style="letter-spacing:-0.718px;margin-left:-0.18px">-27.5</span> <span style="letter-spacing:1.933px;margin-left:0.42px">Mt</span></td><td class="c3 v"><span style="letter-spacing:-1.184px;margin-left:-0.18px">-0.65%</span></td></tr>
<tr><td class="c0"><svg width="50" height="48" viewBox="0 0 50 48" role="img" aria-label="Flag of Mexico"><path d="M2.0,10.1 L3.8,9.1 L5.5,8.4 L7.3,8.0 L9.0,7.9 L10.8,7.9 L12.6,8.1 L14.3,8.3 L16.1,8.6 L17.9,8.9 L17.9,12.3 L17.9,15.7 L17.9,19.1 L17.9,22.5 L17.9,25.9 L17.9,29.3 L17.9,32.6 L17.9,36.0 L16.1,35.7 L14.3,35.5 L12.6,35.3 L10.8,35.2 L9.0,35.2 L7.3,35.4 L5.5,35.7 L3.8,36.4 L2.0,37.5 L2.0,34.0 L2.0,30.6 L2.0,27.2 L2.0,23.8 L2.0,20.3 L2.0,16.9 L2.0,13.5Z" fill="#1f9a6d"/><path d="M17.5,8.8 L19.3,9.2 L21.0,9.7 L22.8,10.1 L24.6,10.6 L26.4,11.0 L28.2,11.4 L30.0,11.8 L31.7,12.1 L33.5,12.4 L33.5,15.8 L33.5,19.1 L33.5,22.5 L33.5,25.8 L33.5,29.2 L33.5,32.5 L33.5,35.9 L33.5,39.3 L31.7,39.0 L30.0,38.7 L28.2,38.4 L26.4,38.0 L24.6,37.6 L22.8,37.1 L21.0,36.7 L19.3,36.3 L17.5,36.0 L17.5,32.6 L17.5,29.2 L17.5,25.8 L17.5,22.4 L17.5,19.0 L17.5,15.6 L17.5,12.2Z" fill="#fbfbfd"/><path d="M33.1,12.3 L34.9,12.6 L36.7,12.9 L38.4,13.0 L40.2,13.0 L42.0,13.0 L43.7,12.7 L45.5,12.4 L47.2,11.9 L49.0,11.2 L49.0,14.6 L49.0,17.9 L49.0,21.2 L49.0,24.5 L49.0,27.9 L49.0,31.2 L49.0,34.5 L49.0,37.8 L47.2,38.5 L45.5,39.0 L43.7,39.4 L42.0,39.7 L40.2,39.8 L38.4,39.8 L36.7,39.6 L34.9,39.4 L33.1,39.2 L33.1,35.8 L33.1,32.5 L33.1,29.1 L33.1,25.8 L33.1,22.4 L33.1,19.1 L33.1,15.7Z" fill="#e22a49"/><path d="M30.4,25.3 L30.0,27.0 L29.0,28.3 L27.5,29.0 L25.7,28.9 L24.0,28.2 L22.4,26.8 L21.4,25.0 L21.1,23.2 L21.4,21.5 L22.4,20.3 L24.0,19.7 L25.7,19.8 L27.5,20.5 L29.0,21.8 L30.0,23.5Z" fill="#c4b08a"/><path d="M29.6,23.3 L29.3,24.6 L28.3,25.3 L26.9,25.4 L25.5,24.7 L24.5,23.5 L24.2,22.1 L24.5,20.8 L25.5,20.1 L26.9,20.0 L28.3,20.7 L29.3,21.9Z" fill="#7a4a2a"/><path d="M25.5,23.5 L25.1,24.3 L24.1,24.5 L23.1,23.9 L22.7,22.8 L23.1,21.9 L24.1,21.8 L25.1,22.4Z" fill="#9a6a3a"/><path d="M20.8,25.3 L22.0,26.9 L23.2,28.6 L24.4,29.3 L25.7,30.0 L27.0,29.9 L28.3,29.8 L29.5,28.6 L30.7,27.5" fill="none" stroke="#3f9a62" stroke-width="1.3" stroke-linecap="round" stroke-linejoin="round"/><path d="M24.1,29.9 L25.7,30.3 L27.4,30.6" fill="none" stroke="#3a8fb0" stroke-width="1.0" stroke-linecap="round"/><path d="M2.0,10.1 L3.9,9.0 L5.8,8.3 L7.6,8.0 L9.5,7.9 L11.4,8.0 L13.3,8.2 L15.2,8.4 L17.0,8.7 L18.9,9.1 L20.8,9.6 L22.7,10.1 L24.6,10.6 L26.4,11.0 L28.3,11.4 L30.2,11.8 L32.1,12.2 L34.0,12.5 L35.8,12.8 L37.7,13.0 L39.6,13.0 L41.5,13.0 L43.4,12.8 L45.2,12.5 L47.1,11.9 L49.0,11.2 L49.0,14.6 L49.0,17.9 L49.0,21.2 L49.0,24.5 L49.0,27.9 L49.0,31.2 L49.0,34.5 L49.0,37.8 L47.1,38.5 L45.2,39.1 L43.4,39.5 L41.5,39.7 L39.6,39.8 L37.7,39.7 L35.8,39.6 L34.0,39.3 L32.1,39.0 L30.2,38.7 L28.3,38.4 L26.4,38.0 L24.6,37.6 L22.7,37.1 L20.8,36.7 L18.9,36.3 L17.0,35.9 L15.2,35.6 L13.3,35.4 L11.4,35.2 L9.5,35.2 L7.6,35.3 L5.8,35.7 L3.9,36.4 L2.0,37.5 L2.0,34.0 L2.0,30.6 L2.0,27.2 L2.0,23.8 L2.0,20.3 L2.0,16.9 L2.0,13.5Z" fill="url(#fsh)"/></svg></td><td class="c1"><span style="letter-spacing:-0.396px;margin-left:-0.07px">2.</span> <span style="letter-spacing:0.084px;margin-left:-0.46px">Mexico</span></td><td class="c2 v"><span style="letter-spacing:-0.731px;margin-left:-0.18px">-7.2</span> <span style="letter-spacing:1.933px;margin-left:0.11px">Mt</span></td><td class="c3 v"><span style="letter-spacing:-1.184px;margin-left:-0.18px">-0.88%</span></td></tr>
<tr><td class="c0"><svg width="50" height="48" viewBox="0 0 50 48" role="img" aria-label="Flag of Australia"><path d="M2.0,11.8 L3.9,10.8 L5.8,10.1 L7.6,9.8 L9.5,9.7 L11.4,9.8 L13.3,10.0 L15.2,10.2 L17.0,10.5 L18.9,10.9 L20.8,11.4 L22.7,11.9 L24.6,12.4 L26.4,12.8 L28.3,13.2 L30.2,13.6 L32.1,14.0 L34.0,14.3 L35.8,14.6 L37.7,14.8 L39.6,14.8 L41.5,14.8 L43.4,14.6 L45.2,14.3 L47.1,13.7 L49.0,13.1 L49.0,15.9 L49.0,18.8 L49.0,21.7 L49.0,24.6 L49.0,27.5 L49.0,30.4 L49.0,33.3 L49.0,36.1 L47.1,36.9 L45.2,37.4 L43.4,37.8 L41.5,38.0 L39.6,38.1 L37.7,38.0 L35.8,37.8 L34.0,37.6 L32.1,37.3 L30.2,37.0 L28.3,36.6 L26.4,36.3 L24.6,35.8 L22.7,35.4 L20.8,34.9 L18.9,34.5 L17.0,34.1 L15.2,33.8 L13.3,33.6 L11.4,33.4 L9.5,33.4 L7.6,33.5 L5.8,33.9 L3.9,34.6 L2.0,35.6 L2.0,32.7 L2.0,29.7 L2.0,26.7 L2.0,23.8 L2.0,20.8 L2.0,17.8 L2.0,14.8Z" fill="#0f2b9c"/><path d="M2.0,11.8 L3.8,11.7 L5.6,12.0 L7.4,12.6 L9.2,13.4 L11.0,14.3 L12.8,15.4 L14.7,16.5 L16.5,17.7 L18.3,19.0 L20.1,20.3 L21.9,21.6 L23.7,23.0 L25.5,24.3" fill="none" stroke="#f4f4f8" stroke-width="2.6"/><path d="M25.5,12.6 L23.7,13.0 L21.9,13.5 L20.1,13.9 L18.3,14.4 L16.5,15.0 L14.7,15.6 L12.8,16.3 L11.0,17.0 L9.2,17.9 L7.4,19.0 L5.6,20.2 L3.8,21.8 L2.0,23.8" fill="none" stroke="#f4f4f8" stroke-width="2.6"/><path d="M2.0,11.8 L3.8,11.7 L5.6,12.0 L7.4,12.6 L9.2,13.4 L11.0,14.3 L12.8,15.4 L14.7,16.5 L16.5,17.7 L18.3,19.0 L20.1,20.3 L21.9,21.6 L23.7,23.0 L25.5,24.3" fill="none" stroke="#e0263c" stroke-width="0.9"/><path d="M25.5,12.6 L23.7,13.0 L21.9,13.5 L20.1,13.9 L18.3,14.4 L16.5,15.0 L14.7,15.6 L12.8,16.3 L11.0,17.0 L9.2,17.9 L7.4,19.0 L5.6,20.2 L3.8,21.8 L2.0,23.8" fill="none" stroke="#e0263c" stroke-width="0.9"/><path d="M11.6,9.8 L13.0,9.9 L14.5,10.1 L15.9,10.3 L15.9,13.3 L15.9,16.2 L15.9,19.2 L15.9,22.1 L14.5,21.9 L13.0,21.7 L11.6,21.6 L11.6,18.7 L11.6,15.7 L11.6,12.8Z" fill="#f4f4f8"/><path d="M2.0,15.9 L3.8,14.9 L5.6,14.2 L7.4,13.9 L9.2,13.7 L11.0,13.8 L12.8,13.9 L14.7,14.1 L16.5,14.4 L18.3,14.8 L20.1,15.2 L21.9,15.7 L23.7,16.1 L25.5,16.6 L25.5,18.5 L25.5,20.3 L23.7,19.9 L21.9,19.4 L20.1,19.0 L18.3,18.6 L16.5,18.2 L14.7,17.9 L12.8,17.7 L11.0,17.6 L9.2,17.5 L7.4,17.7 L5.6,18.0 L3.8,18.7 L2.0,19.7 L2.0,17.8Z" fill="#f4f4f8"/><path d="M12.6,9.9 L13.8,10.0 L14.9,10.2 L14.9,13.1 L14.9,16.1 L14.9,19.0 L14.9,22.0 L13.8,21.8 L12.6,21.7 L12.6,18.7 L12.6,15.8 L12.6,12.8Z" fill="#e0263c"/><path d="M2.0,16.7 L3.8,15.7 L5.6,15.1 L7.4,14.7 L9.2,14.6 L11.0,14.6 L12.8,14.7 L14.7,15.0 L16.5,15.3 L18.3,15.6 L20.1,16.0 L21.9,16.5 L23.7,17.0 L25.5,17.4 L25.5,19.5 L23.7,19.1 L21.9,18.6 L20.1,18.2 L18.3,17.8 L16.5,17.4 L14.7,17.1 L12.8,16.9 L11.0,16.7 L9.2,16.7 L7.4,16.8 L5.6,17.2 L3.8,17.8 L2.0,18.9Z" fill="#e0263c"/><path d="M25.5,12.6 L26.9,12.9 L28.3,13.2 L28.3,15.9 L28.3,18.5 L28.3,21.1 L28.3,23.7 L28.3,26.3 L26.9,26.0 L25.5,25.7 L25.5,23.1 L25.5,20.5 L25.5,17.8 L25.5,15.2Z" fill="#0f2b9c"/><path d="M2.0,23.8 L3.8,22.7 L5.5,22.1 L7.3,21.7 L9.0,21.6 L10.8,21.6 L12.5,21.7 L14.3,21.9 L16.0,22.2 L17.8,22.5 L19.5,22.9 L21.3,23.3 L23.1,23.7 L24.8,24.2 L26.6,24.6 L28.3,24.9 L28.3,26.8 L26.6,26.4 L24.8,26.0 L23.1,25.6 L21.3,25.2 L19.5,24.7 L17.8,24.4 L16.0,24.0 L14.3,23.8 L12.5,23.6 L10.8,23.5 L9.0,23.5 L7.3,23.6 L5.5,24.0 L3.8,24.6 L2.0,25.7Z" fill="#0f2b9c"/><path d="M13.8,24.8 L14.3,26.7 L16.1,26.2 L14.9,27.6 L16.7,28.8 L15.7,28.7 L14.7,28.6 L15.0,30.6 L13.8,28.9 L12.5,30.3 L12.8,28.4 L11.8,28.2 L10.8,28.2 L12.6,27.3 L11.4,25.7 L13.2,26.6Z" fill="#f4f4f8"/><path d="M37.0,17.2 L37.3,18.0 L38.1,17.9 L37.7,18.5 L38.4,19.1 L37.6,19.1 L37.6,20.0 L37.0,19.3 L36.4,19.8 L36.5,19.0 L35.6,18.8 L36.3,18.4 L35.9,17.6 L36.7,18.0Z" fill="#f4f4f8"/><path d="M31.1,23.4 L31.4,24.2 L32.3,24.1 L31.8,24.7 L32.5,25.3 L31.7,25.3 L31.8,26.1 L31.1,25.5 L30.5,25.9 L30.6,25.1 L29.7,24.8 L30.4,24.5 L30.0,23.7 L30.8,24.1Z" fill="#f4f4f8"/><path d="M42.7,22.6 L43.0,23.3 L43.8,22.9 L43.4,23.7 L44.0,24.1 L43.2,24.3 L43.3,25.1 L42.7,24.7 L42.0,25.3 L42.1,24.5 L41.3,24.4 L42.0,23.9 L41.5,23.2 L42.3,23.4Z" fill="#f4f4f8"/><path d="M37.0,32.8 L37.3,33.6 L38.1,33.4 L37.7,34.1 L38.4,34.6 L37.6,34.7 L37.6,35.5 L37.0,34.9 L36.4,35.4 L36.5,34.6 L35.6,34.4 L36.3,34.0 L35.9,33.2 L36.7,33.6Z" fill="#f4f4f8"/><path d="M39.6,27.5 L39.8,27.9 L40.3,27.8 L40.0,28.2 L40.4,28.5 L39.9,28.6 L40.0,29.0 L39.6,28.7 L39.2,29.0 L39.3,28.6 L38.8,28.5 L39.2,28.2 L38.9,27.8 L39.4,27.9Z" fill="#f4f4f8"/><path d="M2.0,11.8 L3.9,10.8 L5.8,10.1 L7.6,9.8 L9.5,9.7 L11.4,9.8 L13.3,10.0 L15.2,10.2 L17.0,10.5 L18.9,10.9 L20.8,11.4 L22.7,11.9 L24.6,12.4 L26.4,12.8 L28.3,13.2 L30.2,13.6 L32.1,14.0 L34.0,14.3 L35.8,14.6 L37.7,14.8 L39.6,14.8 L41.5,14.8 L43.4,14.6 L45.2,14.3 L47.1,13.7 L49.0,13.1 L49.0,15.9 L49.0,18.8 L49.0,21.7 L49.0,24.6 L49.0,27.5 L49.0,30.4 L49.0,33.3 L49.0,36.1 L47.1,36.9 L45.2,37.4 L43.4,37.8 L41.5,38.0 L39.6,38.1 L37.7,38.0 L35.8,37.8 L34.0,37.6 L32.1,37.3 L30.2,37.0 L28.3,36.6 L26.4,36.3 L24.6,35.8 L22.7,35.4 L20.8,34.9 L18.9,34.5 L17.0,34.1 L15.2,33.8 L13.3,33.6 L11.4,33.4 L9.5,33.4 L7.6,33.5 L5.8,33.9 L3.9,34.6 L2.0,35.6 L2.0,32.7 L2.0,29.7 L2.0,26.7 L2.0,23.8 L2.0,20.8 L2.0,17.8 L2.0,14.8Z" fill="url(#fsh)"/></svg></td><td class="c1"><span style="letter-spacing:-0.278px;margin-left:-0.11px">3.</span> <span style="letter-spacing:-0.045px;margin-left:-1.1px">Australia</span></td><td class="c2 v"><span style="letter-spacing:-0.804px;margin-left:-0.18px">-7</span> <span style="letter-spacing:1.933px">Mt</span></td><td class="c3 v"><span style="letter-spacing:-1.184px;margin-left:-0.18px">-0.86%</span></td></tr>
<tr><td class="c0"><svg width="50" height="48" viewBox="0 0 50 48" role="img" aria-label="Flag of Japan"><path d="M2.0,7.2 L3.9,6.2 L5.8,5.5 L7.6,5.2 L9.5,5.1 L11.4,5.1 L13.3,5.3 L15.2,5.6 L17.0,5.9 L18.9,6.3 L20.8,6.7 L22.7,7.2 L24.6,7.7 L26.4,8.2 L28.3,8.6 L30.2,9.0 L32.1,9.3 L34.0,9.6 L35.8,9.9 L37.7,10.1 L39.6,10.2 L41.5,10.1 L43.4,9.9 L45.2,9.6 L47.1,9.1 L49.0,8.4 L49.0,12.4 L49.0,16.4 L49.0,20.4 L49.0,24.5 L49.0,28.5 L49.0,32.5 L49.0,36.5 L49.0,40.5 L47.1,41.2 L45.2,41.8 L43.4,42.2 L41.5,42.4 L39.6,42.5 L37.7,42.4 L35.8,42.3 L34.0,42.1 L32.1,41.8 L30.2,41.5 L28.3,41.1 L26.4,40.8 L24.6,40.3 L22.7,39.9 L20.8,39.4 L18.9,39.0 L17.0,38.7 L15.2,38.4 L13.3,38.2 L11.4,38.0 L9.5,38.0 L7.6,38.1 L5.8,38.5 L3.9,39.2 L2.0,40.3 L2.0,36.2 L2.0,32.0 L2.0,27.9 L2.0,23.8 L2.0,19.6 L2.0,15.5 L2.0,11.3Z" fill="#fbfbfd"/><path d="M35.4,26.4 L35.2,28.4 L34.5,30.2 L33.3,31.8 L31.9,33.1 L30.1,33.9 L29.1,34.0 L28.1,34.2 L27.0,34.1 L26.0,34.0 L24.9,33.6 L23.9,33.2 L22.9,32.7 L21.9,32.1 L20.1,30.5 L18.6,28.7 L17.5,26.8 L16.8,24.6 L16.5,22.5 L16.8,20.5 L17.5,18.6 L18.6,17.1 L20.1,16.0 L21.9,15.3 L22.9,15.2 L23.9,15.1 L24.9,15.3 L26.0,15.4 L27.0,15.8 L28.1,16.1 L29.1,16.6 L30.1,17.2 L31.9,18.6 L33.3,20.3 L34.5,22.2 L35.2,24.3Z" fill="#c3112e"/><path d="M2.0,7.2 L3.9,6.2 L5.8,5.5 L7.6,5.2 L9.5,5.1 L11.4,5.1 L13.3,5.3 L15.2,5.6 L17.0,5.9 L18.9,6.3 L20.8,6.7 L22.7,7.2 L24.6,7.7 L26.4,8.2 L28.3,8.6 L30.2,9.0 L32.1,9.3 L34.0,9.6 L35.8,9.9 L37.7,10.1 L39.6,10.2 L41.5,10.1 L43.4,9.9 L45.2,9.6 L47.1,9.1 L49.0,8.4 L49.0,12.4 L49.0,16.4 L49.0,20.4 L49.0,24.5 L49.0,28.5 L49.0,32.5 L49.0,36.5 L49.0,40.5 L47.1,41.2 L45.2,41.8 L43.4,42.2 L41.5,42.4 L39.6,42.5 L37.7,42.4 L35.8,42.3 L34.0,42.1 L32.1,41.8 L30.2,41.5 L28.3,41.1 L26.4,40.8 L24.6,40.3 L22.7,39.9 L20.8,39.4 L18.9,39.0 L17.0,38.7 L15.2,38.4 L13.3,38.2 L11.4,38.0 L9.5,38.0 L7.6,38.1 L5.8,38.5 L3.9,39.2 L2.0,40.3 L2.0,36.2 L2.0,32.0 L2.0,27.9 L2.0,23.8 L2.0,19.6 L2.0,15.5 L2.0,11.3Z" fill="url(#fsh)"/></svg></td><td class="c1"><span style="letter-spacing:-0.384px;margin-left:-0.08px">4.</span> <span style="letter-spacing:-0.942px;margin-left:-2.13px">Japan</span></td><td class="c2 v"><span style="letter-spacing:-0.838px;margin-left:-0.18px">-5.3</span> <span style="letter-spacing:1.933px;margin-left:0.55px">Mt</span></td><td class="c3 v"><span style="letter-spacing:-1.184px;margin-left:-0.18px">-0.41%</span></td></tr>
<tr><td class="c0"><svg width="50" height="48" viewBox="0 0 50 48" role="img" aria-label="Flag of Ukraine"><path d="M2.0,7.2 L3.9,6.2 L5.8,5.5 L7.6,5.2 L9.5,5.1 L11.4,5.1 L13.3,5.3 L15.2,5.6 L17.0,5.9 L18.9,6.3 L20.8,6.7 L22.7,7.2 L24.6,7.7 L26.4,8.2 L28.3,8.6 L30.2,9.0 L32.1,9.3 L34.0,9.6 L35.8,9.9 L37.7,10.1 L39.6,10.2 L41.5,10.1 L43.4,9.9 L45.2,9.6 L47.1,9.1 L49.0,8.4 L49.0,12.4 L49.0,16.5 L49.0,20.5 L49.0,24.6 L47.1,25.3 L45.2,25.8 L43.4,26.2 L41.5,26.4 L39.6,26.5 L37.7,26.4 L35.8,26.2 L34.0,26.0 L32.1,25.7 L30.2,25.3 L28.3,25.0 L26.4,24.6 L24.6,24.2 L22.7,23.7 L20.8,23.2 L18.9,22.8 L17.0,22.4 L15.2,22.1 L13.3,21.9 L11.4,21.7 L9.5,21.7 L7.6,21.8 L5.8,22.1 L3.9,22.8 L2.0,23.9 L2.0,19.7 L2.0,15.5 L2.0,11.4Z" fill="#1f70e2"/><path d="M2.0,23.6 L3.9,22.5 L5.8,21.9 L7.6,21.5 L9.5,21.4 L11.4,21.4 L13.3,21.6 L15.2,21.8 L17.0,22.2 L18.9,22.5 L20.8,23.0 L22.7,23.4 L24.6,23.9 L26.4,24.3 L28.3,24.7 L30.2,25.1 L32.1,25.4 L34.0,25.7 L35.8,26.0 L37.7,26.1 L39.6,26.2 L41.5,26.1 L43.4,25.9 L45.2,25.6 L47.1,25.0 L49.0,24.3 L49.0,28.4 L49.0,32.4 L49.0,36.5 L49.0,40.5 L47.1,41.2 L45.2,41.8 L43.4,42.2 L41.5,42.4 L39.6,42.5 L37.7,42.4 L35.8,42.3 L34.0,42.1 L32.1,41.8 L30.2,41.5 L28.3,41.1 L26.4,40.8 L24.6,40.3 L22.7,39.9 L20.8,39.4 L18.9,39.0 L17.0,38.7 L15.2,38.4 L13.3,38.2 L11.4,38.0 L9.5,38.0 L7.6,38.1 L5.8,38.5 L3.9,39.2 L2.0,40.3 L2.0,36.1 L2.0,32.0 L2.0,27.8Z" fill="#fbd81d"/><path d="M2.0,7.2 L3.9,6.2 L5.8,5.5 L7.6,5.2 L9.5,5.1 L11.4,5.1 L13.3,5.3 L15.2,5.6 L17.0,5.9 L18.9,6.3 L20.8,6.7 L22.7,7.2 L24.6,7.7 L26.4,8.2 L28.3,8.6 L30.2,9.0 L32.1,9.3 L34.0,9.6 L35.8,9.9 L37.7,10.1 L39.6,10.2 L41.5,10.1 L43.4,9.9 L45.2,9.6 L47.1,9.1 L49.0,8.4 L49.0,12.4 L49.0,16.4 L49.0,20.4 L49.0,24.5 L49.0,28.5 L49.0,32.5 L49.0,36.5 L49.0,40.5 L47.1,41.2 L45.2,41.8 L43.4,42.2 L41.5,42.4 L39.6,42.5 L37.7,42.4 L35.8,42.3 L34.0,42.1 L32.1,41.8 L30.2,41.5 L28.3,41.1 L26.4,40.8 L24.6,40.3 L22.7,39.9 L20.8,39.4 L18.9,39.0 L17.0,38.7 L15.2,38.4 L13.3,38.2 L11.4,38.0 L9.5,38.0 L7.6,38.1 L5.8,38.5 L3.9,39.2 L2.0,40.3 L2.0,36.2 L2.0,32.0 L2.0,27.9 L2.0,23.8 L2.0,19.6 L2.0,15.5 L2.0,11.3Z" fill="url(#fsh)"/></svg></td><td class="c1"><span style="letter-spacing:-0.737px;margin-left:0.39px">5.</span> <span style="letter-spacing:0.288px;margin-left:-0.32px">Ukraine</span></td><td class="c2 v"><span style="letter-spacing:-0.717px;margin-left:-0.18px">-2.9</span> <span style="letter-spacing:1.933px;margin-left:0.06px">Mt</span></td><td class="c3 v"><span style="letter-spacing:-1.184px;margin-left:-0.18px">-1.02%</span></td></tr>
<tr><td class="c0"><svg width="50" height="48" viewBox="0 0 50 48" role="img" aria-label="Flag of Greece"><path d="M2.0,7.2 L3.9,6.2 L5.8,5.5 L7.6,5.2 L9.5,5.1 L11.4,5.1 L13.3,5.3 L15.2,5.6 L17.0,5.9 L18.9,6.3 L20.8,6.7 L22.7,7.2 L24.6,7.7 L26.4,8.2 L28.3,8.6 L30.2,9.0 L32.1,9.3 L34.0,9.6 L35.8,9.9 L37.7,10.1 L39.6,10.2 L41.5,10.1 L43.4,9.9 L45.2,9.6 L47.1,9.1 L49.0,8.4 L49.0,12.1 L47.1,12.8 L45.2,13.3 L43.4,13.7 L41.5,13.9 L39.6,13.9 L37.7,13.8 L35.8,13.6 L34.0,13.4 L32.1,13.0 L30.2,12.7 L28.3,12.3 L26.4,11.9 L24.6,11.5 L22.7,11.0 L20.8,10.5 L18.9,10.1 L17.0,9.7 L15.2,9.3 L13.3,9.1 L11.4,8.9 L9.5,8.8 L7.6,9.0 L5.8,9.3 L3.9,10.0 L2.0,11.0Z" fill="#1f63d8"/><path d="M2.0,10.7 L3.9,9.7 L5.8,9.0 L7.6,8.7 L9.5,8.6 L11.4,8.7 L13.3,8.8 L15.2,9.1 L17.0,9.4 L18.9,9.8 L20.8,10.2 L22.7,10.7 L24.6,11.2 L26.4,11.7 L28.3,12.1 L30.2,12.4 L32.1,12.8 L34.0,13.1 L35.8,13.4 L37.7,13.6 L39.6,13.6 L41.5,13.6 L43.4,13.4 L45.2,13.0 L47.1,12.5 L49.0,11.8 L49.0,15.7 L47.1,16.4 L45.2,16.9 L43.4,17.2 L41.5,17.4 L39.6,17.5 L37.7,17.4 L35.8,17.2 L34.0,17.0 L32.1,16.7 L30.2,16.3 L28.3,16.0 L26.4,15.5 L24.6,15.1 L22.7,14.6 L20.8,14.1 L18.9,13.7 L17.0,13.3 L15.2,13.0 L13.3,12.7 L11.4,12.6 L9.5,12.5 L7.6,12.6 L5.8,13.0 L3.9,13.6 L2.0,14.7Z" fill="#f8f9fc"/><path d="M2.0,14.4 L3.9,13.4 L5.8,12.7 L7.6,12.4 L9.5,12.2 L11.4,12.3 L13.3,12.5 L15.2,12.7 L17.0,13.1 L18.9,13.4 L20.8,13.9 L22.7,14.4 L24.6,14.8 L26.4,15.3 L28.3,15.7 L30.2,16.1 L32.1,16.4 L34.0,16.7 L35.8,17.0 L37.7,17.2 L39.6,17.2 L41.5,17.2 L43.4,17.0 L45.2,16.6 L47.1,16.1 L49.0,15.4 L49.0,19.2 L47.1,19.9 L45.2,20.5 L43.4,20.8 L41.5,21.0 L39.6,21.1 L37.7,21.0 L35.8,20.8 L34.0,20.6 L32.1,20.3 L30.2,19.9 L28.3,19.6 L26.4,19.2 L24.6,18.7 L22.7,18.2 L20.8,17.8 L18.9,17.3 L17.0,17.0 L15.2,16.6 L13.3,16.4 L11.4,16.2 L9.5,16.2 L7.6,16.3 L5.8,16.6 L3.9,17.3 L2.0,18.4Z" fill="#1f63d8"/><path d="M2.0,18.1 L3.9,17.0 L5.8,16.4 L7.6,16.0 L9.5,15.9 L11.4,16.0 L13.3,16.1 L15.2,16.4 L17.0,16.7 L18.9,17.1 L20.8,17.5 L22.7,18.0 L24.6,18.5 L26.4,18.9 L28.3,19.3 L30.2,19.7 L32.1,20.0 L34.0,20.3 L35.8,20.6 L37.7,20.8 L39.6,20.8 L41.5,20.8 L43.4,20.6 L45.2,20.2 L47.1,19.7 L49.0,19.0 L49.0,22.8 L47.1,23.5 L45.2,24.0 L43.4,24.4 L41.5,24.6 L39.6,24.7 L37.7,24.6 L35.8,24.4 L34.0,24.2 L32.1,23.9 L30.2,23.5 L28.3,23.2 L26.4,22.8 L24.6,22.3 L22.7,21.9 L20.8,21.4 L18.9,21.0 L17.0,20.6 L15.2,20.3 L13.3,20.0 L11.4,19.9 L9.5,19.8 L7.6,19.9 L5.8,20.3 L3.9,21.0 L2.0,22.0Z" fill="#f8f9fc"/><path d="M2.0,21.8 L3.9,20.7 L5.8,20.0 L7.6,19.7 L9.5,19.6 L11.4,19.6 L13.3,19.8 L15.2,20.0 L17.0,20.3 L18.9,20.7 L20.8,21.1 L22.7,21.6 L24.6,22.1 L26.4,22.5 L28.3,22.9 L30.2,23.3 L32.1,23.6 L34.0,23.9 L35.8,24.2 L37.7,24.3 L39.6,24.4 L41.5,24.4 L43.4,24.1 L45.2,23.8 L47.1,23.2 L49.0,22.5 L49.0,26.4 L47.1,27.1 L45.2,27.6 L43.4,28.0 L41.5,28.2 L39.6,28.3 L37.7,28.2 L35.8,28.0 L34.0,27.8 L32.1,27.5 L30.2,27.2 L28.3,26.8 L26.4,26.4 L24.6,26.0 L22.7,25.5 L20.8,25.0 L18.9,24.6 L17.0,24.2 L15.2,23.9 L13.3,23.7 L11.4,23.5 L9.5,23.5 L7.6,23.6 L5.8,24.0 L3.9,24.7 L2.0,25.7Z" fill="#1f63d8"/><path d="M2.0,25.5 L3.9,24.4 L5.8,23.7 L7.6,23.3 L9.5,23.2 L11.4,23.3 L13.3,23.4 L15.2,23.7 L17.0,24.0 L18.9,24.4 L20.8,24.8 L22.7,25.2 L24.6,25.7 L26.4,26.1 L28.3,26.5 L30.2,26.9 L32.1,27.2 L34.0,27.5 L35.8,27.8 L37.7,27.9 L39.6,28.0 L41.5,27.9 L43.4,27.7 L45.2,27.4 L47.1,26.8 L49.0,26.1 L49.0,29.9 L47.1,30.6 L45.2,31.2 L43.4,31.6 L41.5,31.8 L39.6,31.9 L37.7,31.8 L35.8,31.6 L34.0,31.4 L32.1,31.1 L30.2,30.8 L28.3,30.4 L26.4,30.0 L24.6,29.6 L22.7,29.1 L20.8,28.7 L18.9,28.3 L17.0,27.9 L15.2,27.6 L13.3,27.3 L11.4,27.2 L9.5,27.1 L7.6,27.3 L5.8,27.6 L3.9,28.3 L2.0,29.4Z" fill="#f8f9fc"/><path d="M2.0,29.1 L3.9,28.1 L5.8,27.4 L7.6,27.0 L9.5,26.9 L11.4,26.9 L13.3,27.1 L15.2,27.3 L17.0,27.6 L18.9,28.0 L20.8,28.4 L22.7,28.9 L24.6,29.3 L26.4,29.8 L28.3,30.2 L30.2,30.5 L32.1,30.8 L34.0,31.1 L35.8,31.4 L37.7,31.5 L39.6,31.6 L41.5,31.5 L43.4,31.3 L45.2,30.9 L47.1,30.4 L49.0,29.7 L49.0,33.5 L47.1,34.2 L45.2,34.8 L43.4,35.1 L41.5,35.4 L39.6,35.4 L37.7,35.4 L35.8,35.2 L34.0,35.0 L32.1,34.7 L30.2,34.4 L28.3,34.0 L26.4,33.6 L24.6,33.2 L22.7,32.8 L20.8,32.3 L18.9,31.9 L17.0,31.5 L15.2,31.2 L13.3,31.0 L11.4,30.8 L9.5,30.8 L7.6,30.9 L5.8,31.3 L3.9,32.0 L2.0,33.1Z" fill="#1f63d8"/><path d="M2.0,32.8 L3.9,31.7 L5.8,31.0 L7.6,30.7 L9.5,30.5 L11.4,30.6 L13.3,30.7 L15.2,31.0 L17.0,31.3 L18.9,31.6 L20.8,32.1 L22.7,32.5 L24.6,33.0 L26.4,33.4 L28.3,33.8 L30.2,34.1 L32.1,34.4 L34.0,34.7 L35.8,35.0 L37.7,35.1 L39.6,35.2 L41.5,35.1 L43.4,34.9 L45.2,34.5 L47.1,34.0 L49.0,33.2 L49.0,37.1 L47.1,37.8 L45.2,38.3 L43.4,38.7 L41.5,39.0 L39.6,39.0 L37.7,39.0 L35.8,38.8 L34.0,38.6 L32.1,38.3 L30.2,38.0 L28.3,37.6 L26.4,37.3 L24.6,36.8 L22.7,36.4 L20.8,35.9 L18.9,35.5 L17.0,35.2 L15.2,34.9 L13.3,34.6 L11.4,34.5 L9.5,34.5 L7.6,34.6 L5.8,35.0 L3.9,35.7 L2.0,36.8Z" fill="#f8f9fc"/><path d="M2.0,36.5 L3.9,35.4 L5.8,34.7 L7.6,34.3 L9.5,34.2 L11.4,34.2 L13.3,34.4 L15.2,34.6 L17.0,34.9 L18.9,35.3 L20.8,35.7 L22.7,36.1 L24.6,36.6 L26.4,37.0 L28.3,37.4 L30.2,37.7 L32.1,38.0 L34.0,38.3 L35.8,38.6 L37.7,38.7 L39.6,38.8 L41.5,38.7 L43.4,38.5 L45.2,38.1 L47.1,37.5 L49.0,36.8 L49.0,40.5 L47.1,41.2 L45.2,41.8 L43.4,42.2 L41.5,42.4 L39.6,42.5 L37.7,42.4 L35.8,42.3 L34.0,42.1 L32.1,41.8 L30.2,41.5 L28.3,41.1 L26.4,40.8 L24.6,40.3 L22.7,39.9 L20.8,39.4 L18.9,39.0 L17.0,38.7 L15.2,38.4 L13.3,38.2 L11.4,38.0 L9.5,38.0 L7.6,38.1 L5.8,38.5 L3.9,39.2 L2.0,40.3Z" fill="#1f63d8"/><path d="M2.0,7.2 L3.8,6.2 L5.5,5.6 L7.3,5.2 L9.1,5.1 L10.8,5.1 L12.6,5.2 L14.3,5.4 L16.1,5.7 L17.9,6.1 L19.6,6.5 L19.6,10.1 L19.6,13.7 L19.6,17.4 L19.6,21.0 L19.6,24.6 L17.9,24.3 L16.1,23.9 L14.3,23.7 L12.6,23.5 L10.8,23.4 L9.1,23.4 L7.3,23.5 L5.5,23.9 L3.8,24.6 L2.0,25.6 L2.0,21.9 L2.0,18.2 L2.0,14.6 L2.0,10.9Z" fill="#1f63d8"/><path d="M9.1,5.1 L10.8,5.1 L12.6,5.2 L12.6,8.9 L12.6,12.5 L12.6,16.2 L12.6,19.8 L12.6,23.5 L10.8,23.4 L9.1,23.4 L9.1,19.7 L9.1,16.0 L9.1,12.4 L9.1,8.7Z" fill="#f8f9fc"/><path d="M2.0,14.6 L3.8,13.6 L5.5,12.9 L7.3,12.5 L9.1,12.4 L10.8,12.4 L12.6,12.5 L14.3,12.7 L16.1,13.0 L17.9,13.3 L19.6,13.7 L19.6,17.4 L17.9,17.0 L16.1,16.7 L14.3,16.4 L12.6,16.2 L10.8,16.1 L9.1,16.0 L7.3,16.2 L5.5,16.6 L3.8,17.2 L2.0,18.2Z" fill="#f8f9fc"/><path d="M2.0,7.2 L3.9,6.2 L5.8,5.5 L7.6,5.2 L9.5,5.1 L11.4,5.1 L13.3,5.3 L15.2,5.6 L17.0,5.9 L18.9,6.3 L20.8,6.7 L22.7,7.2 L24.6,7.7 L26.4,8.2 L28.3,8.6 L30.2,9.0 L32.1,9.3 L34.0,9.6 L35.8,9.9 L37.7,10.1 L39.6,10.2 L41.5,10.1 L43.4,9.9 L45.2,9.6 L47.1,9.1 L49.0,8.4 L49.0,12.4 L49.0,16.4 L49.0,20.4 L49.0,24.5 L49.0,28.5 L49.0,32.5 L49.0,36.5 L49.0,40.5 L47.1,41.2 L45.2,41.8 L43.4,42.2 L41.5,42.4 L39.6,42.5 L37.7,42.4 L35.8,42.3 L34.0,42.1 L32.1,41.8 L30.2,41.5 L28.3,41.1 L26.4,40.8 L24.6,40.3 L22.7,39.9 L20.8,39.4 L18.9,39.0 L17.0,38.7 L15.2,38.4 L13.3,38.2 L11.4,38.0 L9.5,38.0 L7.6,38.1 L5.8,38.5 L3.9,39.2 L2.0,40.3 L2.0,36.2 L2.0,32.0 L2.0,27.9 L2.0,23.8 L2.0,19.6 L2.0,15.5 L2.0,11.3Z" fill="url(#fsh)"/></svg></td><td class="c1"><span style="letter-spacing:-0.377px;margin-left:0.1px">6.</span> <span style="letter-spacing:-0.665px;margin-left:-0.78px">Greece</span></td><td class="c2 v"><span style="letter-spacing:-0.677px;margin-left:-0.18px">-2.7</span> <span style="letter-spacing:1.933px;margin-left:-0.11px">Mt</span></td><td class="c3 v"><span style="letter-spacing:-1.184px;margin-left:-0.18px">-2.81%</span></td></tr>
<tr><td class="c0"><svg width="50" height="48" viewBox="0 0 50 48" role="img" aria-label="Flag of France"><path d="M2.0,7.2 L3.8,6.2 L5.5,5.6 L7.3,5.2 L9.0,5.1 L10.8,5.1 L12.6,5.2 L14.3,5.4 L16.1,5.7 L17.9,6.1 L17.9,10.2 L17.9,14.3 L17.9,18.4 L17.9,22.4 L17.9,26.5 L17.9,30.6 L17.9,34.7 L17.9,38.8 L16.1,38.5 L14.3,38.3 L12.6,38.1 L10.8,38.0 L9.0,38.0 L7.3,38.2 L5.5,38.6 L3.8,39.3 L2.0,40.3 L2.0,36.2 L2.0,32.0 L2.0,27.9 L2.0,23.8 L2.0,19.6 L2.0,15.5 L2.0,11.3Z" fill="#2247c0"/><path d="M17.5,6.0 L19.3,6.4 L21.0,6.8 L22.8,7.3 L24.6,7.7 L26.4,8.2 L28.2,8.6 L30.0,8.9 L31.7,9.2 L33.5,9.6 L33.5,13.6 L33.5,17.7 L33.5,21.7 L33.5,25.8 L33.5,29.8 L33.5,33.9 L33.5,37.9 L33.5,42.0 L31.7,41.7 L30.0,41.4 L28.2,41.1 L26.4,40.7 L24.6,40.3 L22.8,39.9 L21.0,39.5 L19.3,39.1 L17.5,38.8 L17.5,34.7 L17.5,30.6 L17.5,26.5 L17.5,22.4 L17.5,18.3 L17.5,14.2 L17.5,10.1Z" fill="#fbfbfd"/><path d="M33.1,9.5 L34.9,9.8 L36.7,10.0 L38.4,10.1 L40.2,10.2 L42.0,10.1 L43.7,9.9 L45.5,9.5 L47.2,9.0 L49.0,8.4 L49.0,12.4 L49.0,16.4 L49.0,20.4 L49.0,24.5 L49.0,28.5 L49.0,32.5 L49.0,36.5 L49.0,40.5 L47.2,41.2 L45.5,41.7 L43.7,42.1 L42.0,42.4 L40.2,42.5 L38.4,42.5 L36.7,42.4 L34.9,42.2 L33.1,41.9 L33.1,37.9 L33.1,33.8 L33.1,29.8 L33.1,25.7 L33.1,21.7 L33.1,17.6 L33.1,13.5Z" fill="#ef3446"/><path d="M2.0,7.2 L3.9,6.2 L5.8,5.5 L7.6,5.2 L9.5,5.1 L11.4,5.1 L13.3,5.3 L15.2,5.6 L17.0,5.9 L18.9,6.3 L20.8,6.7 L22.7,7.2 L24.6,7.7 L26.4,8.2 L28.3,8.6 L30.2,9.0 L32.1,9.3 L34.0,9.6 L35.8,9.9 L37.7,10.1 L39.6,10.2 L41.5,10.1 L43.4,9.9 L45.2,9.6 L47.1,9.1 L49.0,8.4 L49.0,12.4 L49.0,16.4 L49.0,20.4 L49.0,24.5 L49.0,28.5 L49.0,32.5 L49.0,36.5 L49.0,40.5 L47.1,41.2 L45.2,41.8 L43.4,42.2 L41.5,42.4 L39.6,42.5 L37.7,42.4 L35.8,42.3 L34.0,42.1 L32.1,41.8 L30.2,41.5 L28.3,41.1 L26.4,40.8 L24.6,40.3 L22.7,39.9 L20.8,39.4 L18.9,39.0 L17.0,38.7 L15.2,38.4 L13.3,38.2 L11.4,38.0 L9.5,38.0 L7.6,38.1 L5.8,38.5 L3.9,39.2 L2.0,40.3 L2.0,36.2 L2.0,32.0 L2.0,27.9 L2.0,23.8 L2.0,19.6 L2.0,15.5 L2.0,11.3Z" fill="url(#fsh)"/></svg></td><td class="c1"><span style="letter-spacing:-0.231px;margin-left:-0.22px">7.</span> <span style="letter-spacing:-0.637px;margin-left:-0.65px">France</span></td><td class="c2 v"><span style="letter-spacing:-0.731px;margin-left:-0.18px">-2.2</span> <span style="letter-spacing:1.933px;margin-left:0.11px">Mt</span></td><td class="c3 v"><span style="letter-spacing:-1.184px;margin-left:-0.18px">-0.50%</span></td></tr>
<tr><td class="c0"><svg width="50" height="48" viewBox="0 0 50 48" role="img" aria-label="Flag of Poland"><path d="M2.0,8.9 L3.9,7.9 L5.8,7.2 L7.6,6.9 L9.5,6.8 L11.4,6.9 L13.3,7.1 L15.2,7.3 L17.0,7.6 L18.9,8.0 L20.8,8.5 L22.7,9.0 L24.6,9.5 L26.4,9.9 L28.3,10.3 L30.2,10.7 L32.1,11.1 L34.0,11.4 L35.8,11.7 L37.7,11.9 L39.6,11.9 L41.5,11.9 L43.4,11.7 L45.2,11.4 L47.1,10.8 L49.0,10.1 L49.0,13.8 L49.0,17.4 L49.0,21.0 L49.0,24.6 L47.1,25.3 L45.2,25.9 L43.4,26.2 L41.5,26.4 L39.6,26.5 L37.7,26.4 L35.8,26.2 L34.0,26.0 L32.1,25.7 L30.2,25.4 L28.3,25.0 L26.4,24.6 L24.6,24.2 L22.7,23.7 L20.8,23.2 L18.9,22.8 L17.0,22.4 L15.2,22.1 L13.3,21.9 L11.4,21.7 L9.5,21.7 L7.6,21.8 L5.8,22.1 L3.9,22.8 L2.0,23.9 L2.0,20.1 L2.0,16.4 L2.0,12.7Z" fill="#fbfbfd"/><path d="M2.0,23.6 L3.9,22.6 L5.8,21.9 L7.6,21.5 L9.5,21.4 L11.4,21.5 L13.3,21.6 L15.2,21.9 L17.0,22.2 L18.9,22.6 L20.8,23.0 L22.7,23.5 L24.6,23.9 L26.4,24.4 L28.3,24.8 L30.2,25.1 L32.1,25.5 L34.0,25.8 L35.8,26.0 L37.7,26.2 L39.6,26.3 L41.5,26.2 L43.4,26.0 L45.2,25.6 L47.1,25.1 L49.0,24.4 L49.0,28.0 L49.0,31.6 L49.0,35.2 L49.0,38.9 L47.1,39.6 L45.2,40.1 L43.4,40.5 L41.5,40.7 L39.6,40.8 L37.7,40.8 L35.8,40.6 L34.0,40.4 L32.1,40.1 L30.2,39.8 L28.3,39.4 L26.4,39.1 L24.6,38.6 L22.7,38.2 L20.8,37.7 L18.9,37.3 L17.0,37.0 L15.2,36.7 L13.3,36.4 L11.4,36.3 L9.5,36.3 L7.6,36.4 L5.8,36.8 L3.9,37.5 L2.0,38.5 L2.0,34.8 L2.0,31.1 L2.0,27.4Z" fill="#e6284e"/><path d="M2.0,8.9 L3.9,7.9 L5.8,7.2 L7.6,6.9 L9.5,6.8 L11.4,6.9 L13.3,7.1 L15.2,7.3 L17.0,7.6 L18.9,8.0 L20.8,8.5 L22.7,9.0 L24.6,9.5 L26.4,9.9 L28.3,10.3 L30.2,10.7 L32.1,11.1 L34.0,11.4 L35.8,11.7 L37.7,11.9 L39.6,11.9 L41.5,11.9 L43.4,11.7 L45.2,11.4 L47.1,10.8 L49.0,10.1 L49.0,13.7 L49.0,17.3 L49.0,20.9 L49.0,24.5 L49.0,28.1 L49.0,31.7 L49.0,35.3 L49.0,38.9 L47.1,39.6 L45.2,40.1 L43.4,40.5 L41.5,40.7 L39.6,40.8 L37.7,40.8 L35.8,40.6 L34.0,40.4 L32.1,40.1 L30.2,39.8 L28.3,39.4 L26.4,39.1 L24.6,38.6 L22.7,38.2 L20.8,37.7 L18.9,37.3 L17.0,37.0 L15.2,36.7 L13.3,36.4 L11.4,36.3 L9.5,36.3 L7.6,36.4 L5.8,36.8 L3.9,37.5 L2.0,38.5 L2.0,34.9 L2.0,31.2 L2.0,27.4 L2.0,23.8 L2.0,20.1 L2.0,16.4 L2.0,12.6Z" fill="url(#fsh)"/></svg></td><td class="c1"><span style="letter-spacing:-0.317px;margin-left:0.08px">8.</span> <span style="letter-spacing:-0.088px;margin-left:-0.78px">Poland</span></td><td class="c2 v"><span style="letter-spacing:-0.731px;margin-left:-0.18px">-2.2</span> <span style="letter-spacing:1.933px;margin-left:0.11px">Mt</span></td><td class="c3 v"><span style="letter-spacing:-1.184px;margin-left:-0.18px">-0.55%</span></td></tr>
<tr><td class="c0"><svg width="50" height="48" viewBox="0 0 50 48" role="img" aria-label="Flag of Ecuador"><path d="M2.0,7.2 L3.9,6.2 L5.8,5.5 L7.6,5.2 L9.5,5.1 L11.4,5.1 L13.3,5.3 L15.2,5.6 L17.0,5.9 L18.9,6.3 L20.8,6.7 L22.7,7.2 L24.6,7.7 L26.4,8.2 L28.3,8.6 L30.2,9.0 L32.1,9.3 L34.0,9.6 L35.8,9.9 L37.7,10.1 L39.6,10.2 L41.5,10.1 L43.4,9.9 L45.2,9.6 L47.1,9.1 L49.0,8.4 L49.0,12.4 L49.0,16.5 L49.0,20.5 L49.0,24.6 L47.1,25.3 L45.2,25.8 L43.4,26.2 L41.5,26.4 L39.6,26.5 L37.7,26.4 L35.8,26.2 L34.0,26.0 L32.1,25.7 L30.2,25.3 L28.3,25.0 L26.4,24.6 L24.6,24.2 L22.7,23.7 L20.8,23.2 L18.9,22.8 L17.0,22.4 L15.2,22.1 L13.3,21.9 L11.4,21.7 L9.5,21.7 L7.6,21.8 L5.8,22.1 L3.9,22.8 L2.0,23.9 L2.0,19.7 L2.0,15.5 L2.0,11.4Z" fill="#fbd81d"/><path d="M2.0,23.6 L3.9,22.5 L5.8,21.9 L7.6,21.5 L9.5,21.4 L11.4,21.4 L13.3,21.6 L15.2,21.8 L17.0,22.2 L18.9,22.5 L20.8,23.0 L22.7,23.4 L24.6,23.9 L26.4,24.3 L28.3,24.7 L30.2,25.1 L32.1,25.4 L34.0,25.7 L35.8,26.0 L37.7,26.1 L39.6,26.2 L41.5,26.1 L43.4,25.9 L45.2,25.6 L47.1,25.0 L49.0,24.3 L49.0,28.5 L49.0,32.6 L47.1,33.3 L45.2,33.9 L43.4,34.2 L41.5,34.5 L39.6,34.5 L37.7,34.5 L35.8,34.3 L34.0,34.1 L32.1,33.8 L30.2,33.5 L28.3,33.1 L26.4,32.7 L24.6,32.3 L22.7,31.9 L20.8,31.4 L18.9,31.0 L17.0,30.6 L15.2,30.3 L13.3,30.1 L11.4,29.9 L9.5,29.9 L7.6,30.0 L5.8,30.4 L3.9,31.1 L2.0,32.2 L2.0,27.9Z" fill="#2262d3"/><path d="M2.0,31.9 L3.9,30.8 L5.8,30.1 L7.6,29.8 L9.5,29.6 L11.4,29.7 L13.3,29.8 L15.2,30.0 L17.0,30.4 L18.9,30.7 L20.8,31.1 L22.7,31.6 L24.6,32.0 L26.4,32.5 L28.3,32.9 L30.2,33.2 L32.1,33.5 L34.0,33.8 L35.8,34.1 L37.7,34.2 L39.6,34.3 L41.5,34.2 L43.4,34.0 L45.2,33.6 L47.1,33.1 L49.0,32.4 L49.0,36.4 L49.0,40.5 L47.1,41.2 L45.2,41.8 L43.4,42.2 L41.5,42.4 L39.6,42.5 L37.7,42.4 L35.8,42.3 L34.0,42.1 L32.1,41.8 L30.2,41.5 L28.3,41.1 L26.4,40.8 L24.6,40.3 L22.7,39.9 L20.8,39.4 L18.9,39.0 L17.0,38.7 L15.2,38.4 L13.3,38.2 L11.4,38.0 L9.5,38.0 L7.6,38.1 L5.8,38.5 L3.9,39.2 L2.0,40.3 L2.0,36.1Z" fill="#ee2a3a"/><path d="M21.0,19.9 L21.6,24.3 L22.2,28.7" fill="none" stroke="#d8b21e" stroke-width="1.6" stroke-linecap="round"/><path d="M30.4,22.0 L29.8,26.1 L29.3,30.2" fill="none" stroke="#d8b21e" stroke-width="1.6" stroke-linecap="round"/><path d="M30.9,26.3 L30.5,28.2 L29.4,29.6 L27.7,30.4 L26.7,30.4 L25.7,30.3 L24.8,29.9 L23.8,29.5 L22.1,28.0 L21.0,26.1 L20.6,24.0 L21.0,22.2 L22.1,20.8 L23.8,20.1 L24.8,20.2 L25.7,20.2 L26.7,20.6 L27.7,21.0 L29.4,22.5 L30.5,24.3Z" fill="#caa326"/><path d="M29.5,26.1 L29.2,27.6 L28.1,28.7 L26.6,29.1 L24.9,28.7 L23.4,27.6 L22.3,26.1 L21.9,24.4 L22.3,22.8 L23.4,21.8 L24.9,21.4 L26.6,21.8 L28.1,22.9 L29.2,24.4Z" fill="#86b4c8"/><path d="M27.7,27.3 L27.3,28.4 L26.3,28.9 L25.1,28.6 L24.1,27.7 L23.7,26.4 L24.1,25.4 L25.1,24.9 L26.3,25.2 L27.3,26.1Z" fill="#4f8f5a"/><path d="M19.9,14.7 L21.5,16.1 L23.2,17.5 L24.4,18.4 L25.7,19.4 L27.0,19.1 L28.3,18.7 L30.0,18.3 L31.6,18.0" fill="none" stroke="#3d2a1e" stroke-width="1.25" stroke-linecap="round" stroke-linejoin="round"/><path d="M26.9,19.5 L26.6,20.2 L25.7,20.4 L24.9,19.9 L24.6,19.0 L24.9,18.2 L25.7,18.1 L26.6,18.6Z" fill="#3d2a1e"/><path d="M25.0,30.7 L25.7,33.1 L26.4,35.5" fill="none" stroke="#7a5a30" stroke-width="1.3" stroke-linecap="round"/><path d="M2.0,7.2 L3.9,6.2 L5.8,5.5 L7.6,5.2 L9.5,5.1 L11.4,5.1 L13.3,5.3 L15.2,5.6 L17.0,5.9 L18.9,6.3 L20.8,6.7 L22.7,7.2 L24.6,7.7 L26.4,8.2 L28.3,8.6 L30.2,9.0 L32.1,9.3 L34.0,9.6 L35.8,9.9 L37.7,10.1 L39.6,10.2 L41.5,10.1 L43.4,9.9 L45.2,9.6 L47.1,9.1 L49.0,8.4 L49.0,12.4 L49.0,16.4 L49.0,20.4 L49.0,24.5 L49.0,28.5 L49.0,32.5 L49.0,36.5 L49.0,40.5 L47.1,41.2 L45.2,41.8 L43.4,42.2 L41.5,42.4 L39.6,42.5 L37.7,42.4 L35.8,42.3 L34.0,42.1 L32.1,41.8 L30.2,41.5 L28.3,41.1 L26.4,40.8 L24.6,40.3 L22.7,39.9 L20.8,39.4 L18.9,39.0 L17.0,38.7 L15.2,38.4 L13.3,38.2 L11.4,38.0 L9.5,38.0 L7.6,38.1 L5.8,38.5 L3.9,39.2 L2.0,40.3 L2.0,36.2 L2.0,32.0 L2.0,27.9 L2.0,23.8 L2.0,19.6 L2.0,15.5 L2.0,11.3Z" fill="url(#fsh)"/></svg></td><td class="c1"><span style="letter-spacing:-0.502px;margin-left:0.05px">9.</span> <span style="letter-spacing:-0.216px;margin-left:-0.37px">Ecuador</span></td><td class="c2 v"><span style="letter-spacing:-0.871px;margin-left:-0.18px">-1.5</span> <span style="letter-spacing:1.933px;margin-left:0.67px">Mt</span></td><td class="c3 v"><span style="letter-spacing:-1.184px;margin-left:-0.18px">-1.67%</span></td></tr>
<tr><td class="c0"><svg width="50" height="48" viewBox="0 0 50 48" role="img" aria-label="Flag of Germany"><path d="M2.0,8.8 L3.9,7.8 L5.8,7.1 L7.6,6.8 L9.5,6.7 L11.4,6.8 L13.3,7.0 L15.2,7.2 L17.0,7.5 L18.9,7.9 L20.8,8.4 L22.7,8.9 L24.6,9.4 L26.4,9.8 L28.3,10.2 L30.2,10.6 L32.1,11.0 L34.0,11.3 L35.8,11.6 L37.7,11.8 L39.6,11.8 L41.5,11.8 L43.4,11.6 L45.2,11.3 L47.1,10.7 L49.0,10.1 L49.0,13.3 L49.0,16.6 L49.0,19.8 L47.1,20.5 L45.2,21.0 L43.4,21.4 L41.5,21.6 L39.6,21.7 L37.7,21.6 L35.8,21.4 L34.0,21.1 L32.1,20.8 L30.2,20.5 L28.3,20.1 L26.4,19.7 L24.6,19.3 L22.7,18.8 L20.8,18.3 L18.9,17.9 L17.0,17.5 L15.2,17.2 L13.3,16.9 L11.4,16.8 L9.5,16.7 L7.6,16.8 L5.8,17.2 L3.9,17.8 L2.0,18.9 L2.0,15.6 L2.0,12.2Z" fill="#262223"/><path d="M2.0,18.7 L3.9,17.6 L5.8,16.9 L7.6,16.6 L9.5,16.5 L11.4,16.5 L13.3,16.7 L15.2,16.9 L17.0,17.3 L18.9,17.7 L20.8,18.1 L22.7,18.6 L24.6,19.0 L26.4,19.5 L28.3,19.9 L30.2,20.3 L32.1,20.6 L34.0,20.9 L35.8,21.2 L37.7,21.3 L39.6,21.4 L41.5,21.4 L43.4,21.2 L45.2,20.8 L47.1,20.3 L49.0,19.6 L49.0,22.9 L49.0,26.1 L49.0,29.4 L47.1,30.1 L45.2,30.7 L43.4,31.1 L41.5,31.3 L39.6,31.3 L37.7,31.3 L35.8,31.1 L34.0,30.9 L32.1,30.6 L30.2,30.2 L28.3,29.9 L26.4,29.5 L24.6,29.1 L22.7,28.6 L20.8,28.1 L18.9,27.7 L17.0,27.3 L15.2,27.0 L13.3,26.8 L11.4,26.6 L9.5,26.6 L7.6,26.7 L5.8,27.1 L3.9,27.8 L2.0,28.8 L2.0,25.4 L2.0,22.1Z" fill="#ee2525"/><path d="M2.0,28.6 L3.9,27.5 L5.8,26.8 L7.6,26.5 L9.5,26.4 L11.4,26.4 L13.3,26.6 L15.2,26.8 L17.0,27.1 L18.9,27.5 L20.8,27.9 L22.7,28.4 L24.6,28.8 L26.4,29.3 L28.3,29.7 L30.2,30.0 L32.1,30.3 L34.0,30.6 L35.8,30.9 L37.7,31.0 L39.6,31.1 L41.5,31.0 L43.4,30.8 L45.2,30.5 L47.1,29.9 L49.0,29.2 L49.0,32.5 L49.0,35.7 L49.0,39.0 L47.1,39.7 L45.2,40.2 L43.4,40.6 L41.5,40.8 L39.6,40.9 L37.7,40.9 L35.8,40.7 L34.0,40.5 L32.1,40.2 L30.2,39.9 L28.3,39.5 L26.4,39.2 L24.6,38.7 L22.7,38.3 L20.8,37.8 L18.9,37.4 L17.0,37.1 L15.2,36.8 L13.3,36.5 L11.4,36.4 L9.5,36.4 L7.6,36.5 L5.8,36.9 L3.9,37.6 L2.0,38.6 L2.0,35.3 L2.0,31.9Z" fill="#fcd821"/><path d="M2.0,8.8 L3.9,7.8 L5.8,7.1 L7.6,6.8 L9.5,6.7 L11.4,6.8 L13.3,7.0 L15.2,7.2 L17.0,7.5 L18.9,7.9 L20.8,8.4 L22.7,8.9 L24.6,9.4 L26.4,9.8 L28.3,10.2 L30.2,10.6 L32.1,11.0 L34.0,11.3 L35.8,11.6 L37.7,11.8 L39.6,11.8 L41.5,11.8 L43.4,11.6 L45.2,11.3 L47.1,10.7 L49.0,10.1 L49.0,13.7 L49.0,17.3 L49.0,20.9 L49.0,24.5 L49.0,28.1 L49.0,31.7 L49.0,35.3 L49.0,39.0 L47.1,39.7 L45.2,40.2 L43.4,40.6 L41.5,40.8 L39.6,40.9 L37.7,40.9 L35.8,40.7 L34.0,40.5 L32.1,40.2 L30.2,39.9 L28.3,39.5 L26.4,39.2 L24.6,38.7 L22.7,38.3 L20.8,37.8 L18.9,37.4 L17.0,37.1 L15.2,36.8 L13.3,36.5 L11.4,36.4 L9.5,36.4 L7.6,36.5 L5.8,36.9 L3.9,37.6 L2.0,38.6 L2.0,34.9 L2.0,31.2 L2.0,27.5 L2.0,23.8 L2.0,20.0 L2.0,16.3 L2.0,12.6Z" fill="url(#fsh)"/></svg></td><td class="c1"><span style="letter-spacing:-0.524px;margin-left:0.59px">10.</span> <span style="letter-spacing:0.142px;margin-left:-0.6px">Germany</span></td><td class="c2 v"><span style="letter-spacing:-0.871px;margin-left:-0.18px">-1.5</span> <span style="letter-spacing:1.933px;margin-left:0.67px">Mt</span></td><td class="c3 v"><span style="letter-spacing:-1.184px;margin-left:-0.18px">-0.20%</span></td></tr>
</tbody></table></section>
<footer>
<svg class="logo" width="400" height="44" viewBox="0 0 400 44" role="img" aria-label="Climate TRACE"><text transform="scale(0.8,1)" x="22.25 59.81 90.37 126.37 168.81 206.44 243.87 273.37 302.88 342.25 381.06 418.62 457.69" y="33.5" text-anchor="middle" font-family="Liberation Sans, sans-serif" font-weight="bold" font-size="29.1" fill="#e9e7e7" stroke="#e9e7e7" stroke-width="1" stroke-linejoin="round">CLIMATE TRACE</text><path d="M135.0,18.6 L138.7,29.2 L131.5,29.2Z" fill="#444547"/><path d="M304.8,18.6 L308.5,29.2 L301.3,29.2Z" fill="#444547"/></svg>
<p class="source"><span style="letter-spacing:0.311px;margin-left:0.31px">source:</span> <span style="letter-spacing:0.324px;margin-left:-0.99px">Climate</span> <span style="letter-spacing:-1.62px;margin-left:-0.97px">TRACE</span> <span style="letter-spacing:0.145px;margin-left:-1.38px">data</span> <span style="letter-spacing:0.477px;margin-left:1.02px">version</span> <span style="letter-spacing:-0.169px;margin-left:-0.44px">5.4.0</span> <span style="letter-spacing:0.177px;margin-left:-0.42px">(released</span> <span style="letter-spacing:0.354px;margin-left:0.16px">February</span> <span style="letter-spacing:0.109px;margin-left:-1.01px">2026)</span></p>
</footer>
</main>
</body>
</html>
